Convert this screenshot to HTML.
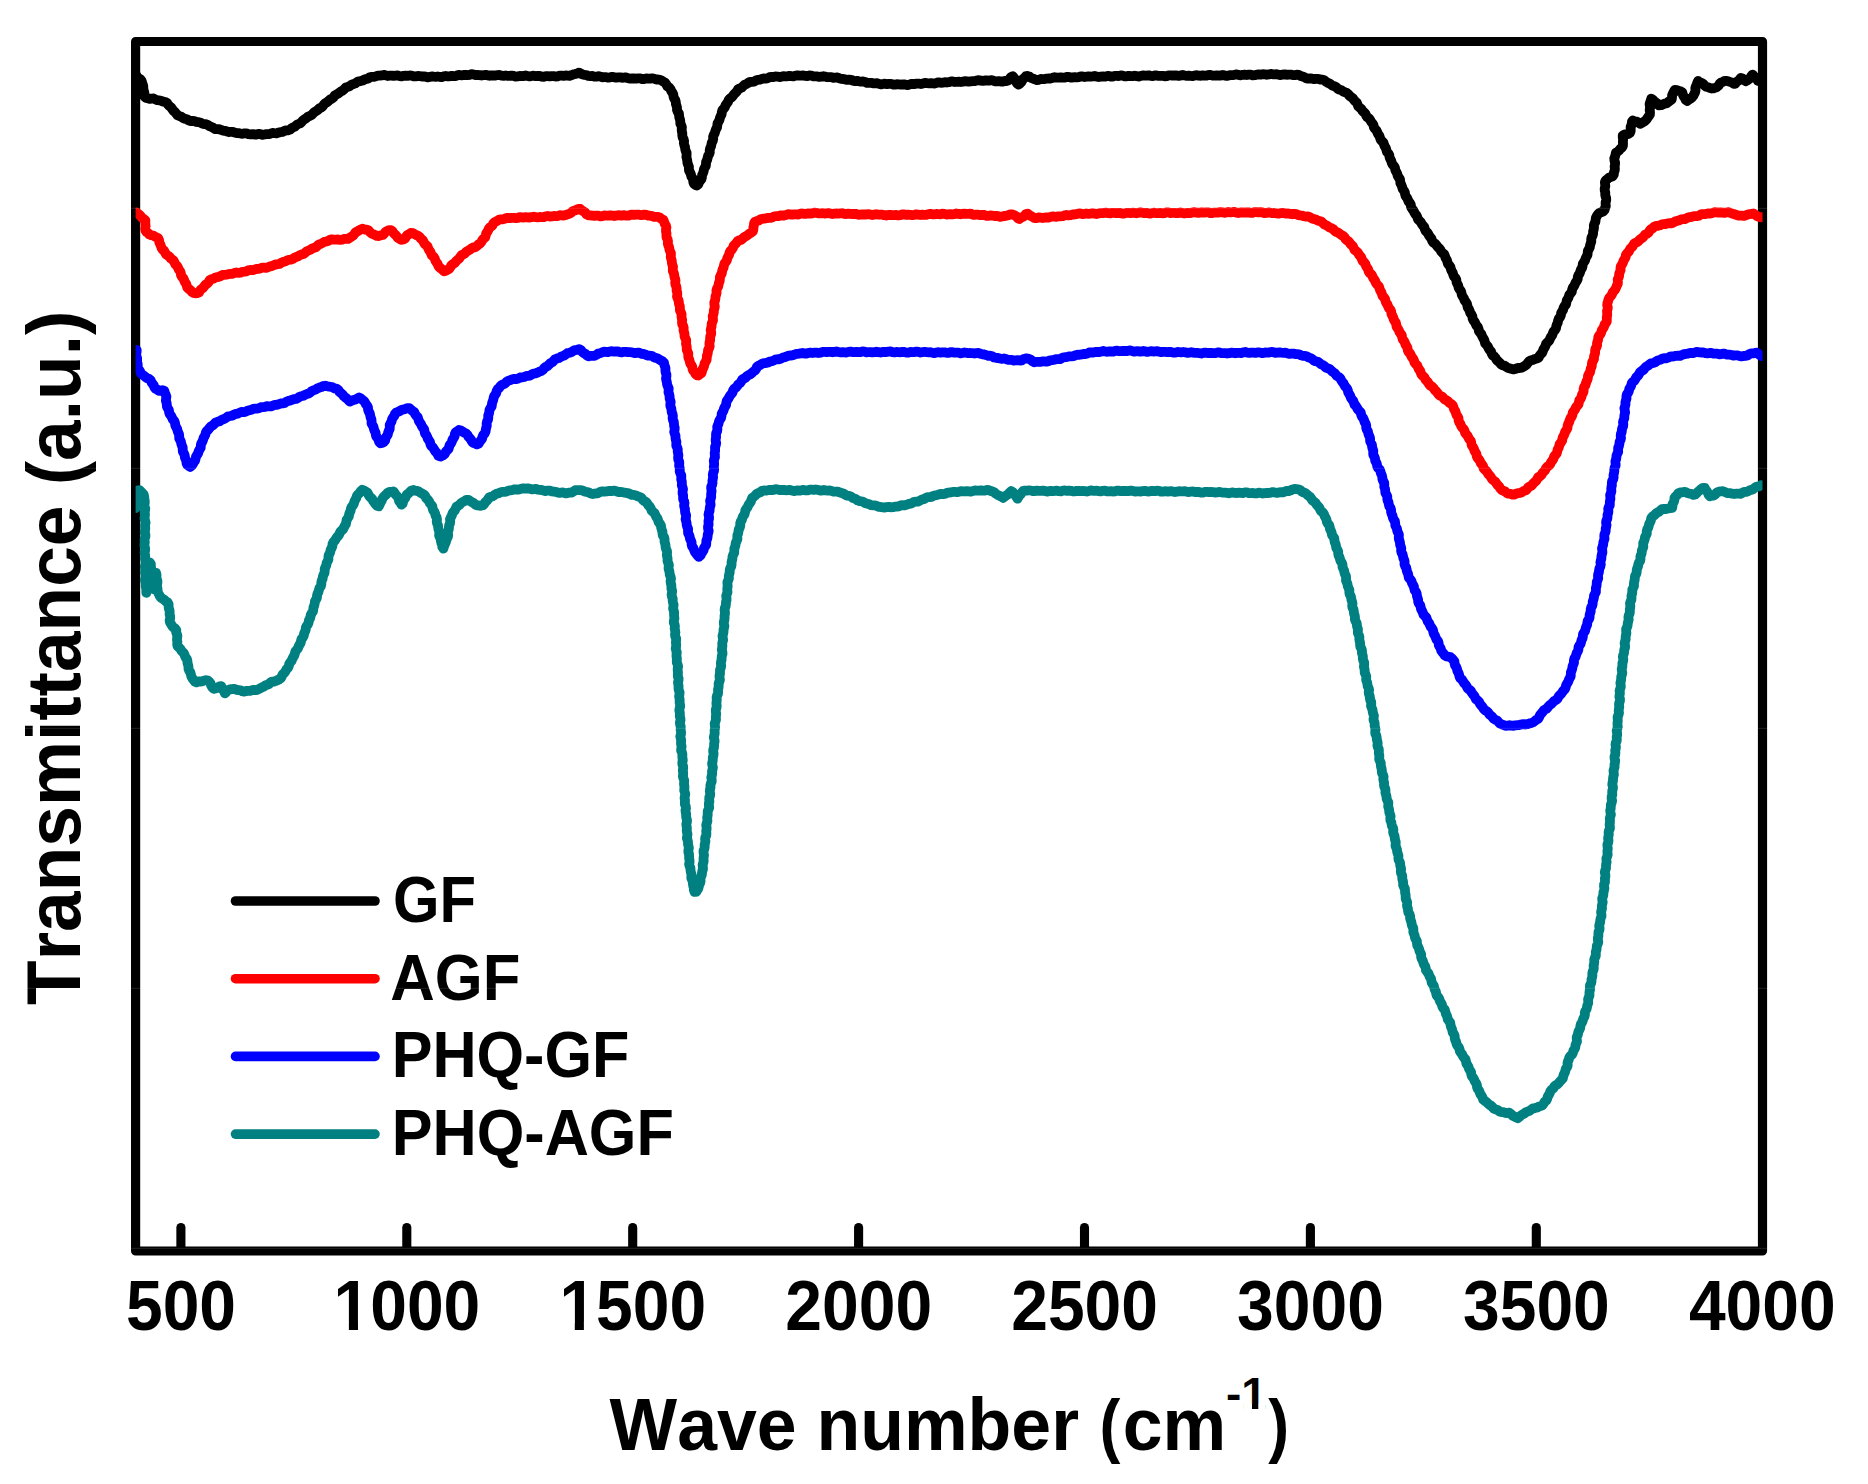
<!DOCTYPE html>
<html lang="en">
<head>
<meta charset="utf-8">
<title>FTIR spectra</title>
<style>
html,body{margin:0;padding:0;background:#fff;}
body{width:1868px;height:1484px;overflow:hidden;}
svg{display:block;}
</style>
</head>
<body>
<svg width="1868" height="1484" viewBox="0 0 1868 1484">
<rect x="0" y="0" width="1868" height="1484" fill="#fff"/>
<defs><clipPath id="plot"><rect x="135.6" y="41.5" width="1626.9" height="1209.5"/></clipPath></defs>
<g stroke="#000" stroke-width="9.1" stroke-linecap="round">
<line x1="180.9" y1="1248" x2="180.9" y2="1227.5"/>
<line x1="406.8" y1="1248" x2="406.8" y2="1227.5"/>
<line x1="632.7" y1="1248" x2="632.7" y2="1227.5"/>
<line x1="858.6" y1="1248" x2="858.6" y2="1227.5"/>
<line x1="1084.5" y1="1248" x2="1084.5" y2="1227.5"/>
<line x1="1310.4" y1="1248" x2="1310.4" y2="1227.5"/>
<line x1="1536.3" y1="1248" x2="1536.3" y2="1227.5"/>
</g>
<rect x="135.6" y="41.5" width="1626.9" height="1209.5" fill="none" stroke="#000" stroke-width="9.2" stroke-linejoin="round"/>
<g clip-path="url(#plot)" fill="none" stroke-linejoin="round" stroke-linecap="round" stroke-width="9.8">
<path stroke="#000000" d="M136.0 75.0L137.1 76.7L138.5 78.1L140.3 79.2L141.5 80.8L142.2 82.7L142.8 84.5L143.3 86.5L143.3 88.5L143.7 90.5L144.3 92.4L144.2 94.3L144.3 96.4L145.7 97.7L147.6 98.2L149.6 98.9L151.6 98.6L153.6 98.5L155.5 99.5L157.3 100.2L159.4 100.3L161.3 100.9L163.2 101.6L165.2 102.0L167.0 102.9L168.1 104.7L169.5 106.2L171.1 107.4L172.3 109.1L173.4 110.7L174.9 112.0L176.2 113.6L177.5 115.3L179.4 116.1L181.3 116.7L183.0 117.9L184.8 118.7L186.8 119.2L188.5 120.3L190.3 121.1L192.4 121.0L194.4 121.2L196.3 121.9L198.3 122.2L200.2 122.5L202.1 123.6L203.9 124.1L206.0 124.2L207.8 125.0L209.4 126.2L211.4 126.9L213.2 127.7L214.8 129.0L216.8 129.2L218.9 129.1L220.8 129.8L222.7 130.6L224.7 130.8L226.6 131.3L228.5 132.0L230.6 131.9L232.6 131.8L234.5 132.6L236.5 133.1L238.5 133.1L240.4 133.5L242.4 133.8L244.5 133.4L246.5 133.4L248.4 134.1L250.4 134.3L252.4 134.1L254.4 134.5L256.4 134.5L258.4 133.9L260.4 134.2L262.4 134.8L264.4 134.5L266.4 134.1L268.4 134.2L270.4 133.7L272.3 133.0L274.4 133.2L276.4 133.3L278.3 132.6L280.3 132.2L282.3 131.9L284.1 131.1L285.9 130.4L288.1 130.3L290.0 129.7L291.5 128.3L293.3 127.3L295.1 126.5L296.5 125.0L298.3 124.0L300.2 123.3L301.7 121.9L303.0 120.3L304.7 119.2L306.4 118.1L307.8 116.7L309.7 115.9L311.6 115.1L312.9 113.6L314.3 112.1L316.1 111.2L317.7 110.0L319.2 108.5L321.0 107.6L322.6 106.5L323.7 104.7L325.2 103.2L327.0 102.3L328.5 101.0L330.0 99.6L331.8 98.8L333.4 97.5L334.5 95.7L336.2 94.6L338.0 93.7L339.5 92.4L341.2 91.2L343.0 90.4L344.4 89.0L345.9 87.4L347.8 86.8L349.7 86.1L351.3 84.9L353.2 84.2L355.1 83.5L356.7 82.3L358.5 81.3L360.6 81.1L362.5 80.6L364.3 79.6L366.2 79.1L368.1 78.5L369.8 77.2L371.8 76.8L373.9 76.9L375.8 76.3L377.7 75.7L379.7 75.7L381.7 75.4L383.7 74.9L385.7 75.3L387.7 76.0L389.7 75.7L391.7 75.6L393.7 75.9L395.7 75.7L397.7 75.5L399.7 76.1L401.7 76.4L403.7 75.8L405.7 75.6L407.7 75.8L409.7 75.5L411.7 75.6L413.7 76.3L415.7 76.4L417.7 76.0L419.7 76.2L421.7 76.5L423.7 76.4L425.7 76.7L427.7 77.3L429.7 77.0L431.7 76.4L433.7 76.7L435.7 76.8L437.7 76.5L439.7 76.8L441.7 77.1L443.7 76.4L445.7 76.0L447.7 76.4L449.7 76.3L451.7 75.9L453.7 76.2L455.7 76.1L457.6 75.2L459.6 75.0L461.6 75.3L463.6 75.0L465.6 74.8L467.6 75.1L469.6 74.9L471.6 74.2L473.6 74.5L475.6 75.1L477.6 75.0L479.6 75.1L481.6 75.5L483.6 75.2L485.6 74.8L487.6 75.4L489.6 75.8L491.6 75.4L493.6 75.5L495.6 75.6L497.6 75.1L499.6 75.0L501.6 75.7L503.6 75.8L505.6 75.5L507.6 75.8L509.6 75.9L511.6 75.6L513.6 75.9L515.6 76.6L517.6 76.4L519.6 76.0L521.6 76.2L523.6 76.0L525.6 75.5L527.6 76.0L529.6 76.4L531.6 76.0L533.6 75.7L535.6 76.1L537.6 76.0L539.6 75.9L541.6 76.6L543.6 76.8L545.6 76.2L547.6 76.2L549.6 76.4L551.6 76.1L553.6 76.1L555.6 76.5L557.6 76.3L559.6 75.6L561.6 75.7L563.6 75.9L565.6 75.5L567.6 75.7L569.6 75.9L571.6 75.2L573.4 74.3L575.4 74.0L577.3 73.4L579.1 72.6L580.8 73.5L582.5 74.5L584.6 74.9L586.4 75.1L588.3 75.9L590.3 76.1L592.3 76.0L594.3 76.6L596.3 76.7L598.3 76.2L600.3 76.5L602.2 77.3L604.2 77.2L606.3 77.2L608.2 77.6L610.3 77.3L612.3 76.8L614.3 77.2L616.2 77.7L618.3 77.4L620.3 77.4L622.2 77.8L624.3 77.5L626.3 77.4L628.2 78.2L630.2 78.6L632.2 78.3L634.2 78.5L636.2 78.7L638.2 78.3L640.2 78.4L642.2 79.1L644.2 79.0L646.2 78.5L648.2 78.7L650.2 78.7L652.2 78.3L654.2 78.7L656.2 79.5L658.1 79.5L660.1 79.8L661.9 80.7L663.5 81.8L665.3 82.8L666.4 84.5L667.3 86.3L669.1 87.4L670.4 89.0L671.2 90.9L672.3 92.5L673.3 94.3L673.5 96.4L674.1 98.3L675.3 100.0L675.8 101.9L675.9 104.0L676.6 105.9L677.0 107.8L677.0 109.9L677.8 111.8L678.9 113.5L679.1 115.5L679.3 117.5L680.0 119.4L680.3 121.4L680.3 123.5L681.2 125.3L681.9 127.2L681.7 129.3L681.8 131.3L682.3 133.3L682.3 135.3L682.6 137.3L683.6 139.1L684.1 141.1L683.9 143.1L684.3 145.1L685.0 147.0L685.2 149.0L685.7 151.0L686.6 152.8L686.6 154.8L686.4 156.9L686.9 158.9L687.3 160.8L687.4 162.8L688.1 164.7L688.9 166.6L688.9 168.7L689.1 170.7L690.1 172.5L690.9 174.3L691.3 176.3L692.4 178.0L693.2 179.9L693.3 182.0L694.0 183.9L695.6 185.1L696.7 185.6L698.3 184.4L699.0 182.5L700.0 180.8L701.4 179.2L701.9 177.2L702.1 175.2L702.9 173.3L703.6 171.4L703.9 169.4L704.8 167.6L705.8 165.9L706.0 163.8L706.1 161.8L707.1 160.0L707.6 158.1L708.0 156.1L709.1 154.3L709.8 152.4L709.7 150.3L710.1 148.4L711.0 146.5L711.4 144.6L711.8 142.6L712.8 140.8L713.2 138.9L713.1 136.7L713.8 134.9L714.8 133.1L715.3 131.1L716.0 129.2L717.0 127.5L717.3 125.5L717.5 123.4L718.5 121.7L719.5 119.9L719.9 117.9L720.7 116.1L721.6 114.3L721.8 112.2L722.4 110.2L723.8 108.7L724.9 107.0L725.6 105.1L726.8 103.5L728.0 101.9L728.7 99.9L730.0 98.4L731.8 97.3L733.0 95.8L734.1 94.1L735.6 92.8L737.0 91.2L738.0 89.4L739.8 88.4L741.7 87.6L743.1 86.1L744.6 84.8L746.5 84.0L748.2 82.9L750.0 81.9L752.1 81.8L754.1 81.6L755.8 80.5L757.7 79.9L759.7 79.7L761.6 78.9L763.5 78.4L765.6 78.6L767.6 78.2L769.4 77.2L771.4 77.0L773.5 77.0L775.4 76.5L777.4 76.6L779.5 77.1L781.5 76.7L783.4 76.1L785.4 76.3L787.4 76.3L789.4 75.9L791.4 76.2L793.4 76.4L795.4 75.7L797.4 75.3L799.4 75.6L801.4 75.6L803.4 75.4L805.4 75.9L807.4 76.1L809.4 75.5L811.4 75.6L813.4 76.3L815.4 76.3L817.4 76.4L819.4 76.9L821.4 76.7L823.4 76.2L825.4 76.6L827.4 77.2L829.4 77.1L831.4 77.2L833.3 77.8L835.4 77.6L837.4 77.4L839.3 78.3L841.2 78.9L843.3 79.0L845.2 79.4L847.2 79.9L849.2 79.6L851.2 79.8L853.1 80.7L855.1 81.1L857.1 80.9L859.1 81.3L861.1 81.6L863.1 81.4L865.1 81.9L867.0 82.9L869.0 82.9L871.0 82.8L872.9 83.3L874.9 83.4L877.0 83.2L878.9 83.8L880.9 84.4L882.9 84.0L884.9 83.7L886.9 84.1L888.9 83.9L890.9 83.8L892.9 84.5L894.9 84.7L896.9 84.2L898.9 84.3L900.9 84.6L902.9 84.4L904.9 84.5L906.9 85.0L908.9 84.8L910.9 84.0L912.9 84.0L914.9 84.1L916.9 83.6L918.9 83.7L920.9 84.0L922.9 83.5L924.9 82.9L926.9 83.2L928.9 83.3L930.9 83.1L932.9 83.3L934.9 83.5L936.9 82.7L938.9 82.4L940.9 82.8L942.9 82.6L944.9 82.2L946.9 82.5L948.9 82.2L950.8 81.5L952.8 81.5L954.9 82.0L956.8 81.8L958.8 81.7L960.9 82.0L962.8 81.7L964.8 81.1L966.8 81.4L968.9 81.7L970.8 81.3L972.8 81.1L974.8 81.1L976.8 80.5L978.8 80.1L980.8 80.7L982.8 80.9L984.8 80.4L986.8 80.5L988.8 80.7L990.8 80.2L992.8 80.4L994.8 81.3L996.8 81.4L998.8 81.1L1000.8 81.5L1002.8 81.6L1004.7 81.0L1006.7 81.1L1008.5 80.3L1009.7 78.7L1011.0 77.1L1012.8 76.2L1014.1 77.9L1015.4 79.4L1016.1 81.4L1016.9 83.3L1018.6 84.6L1019.7 83.8L1021.1 82.4L1022.1 80.7L1023.2 78.9L1024.8 77.6L1025.8 76.1L1027.7 76.0L1029.6 76.7L1031.2 78.0L1033.1 78.7L1034.9 79.4L1036.8 80.0L1038.9 79.8L1040.8 79.0L1042.8 79.1L1044.8 79.1L1046.8 78.6L1048.8 78.5L1050.8 78.5L1052.7 77.8L1054.7 77.2L1056.7 77.6L1058.7 77.6L1060.7 77.3L1062.7 77.6L1064.7 77.6L1066.7 77.0L1068.7 76.9L1070.7 77.5L1072.7 77.5L1074.7 77.2L1076.7 77.4L1078.7 77.1L1080.7 76.4L1082.7 76.5L1084.7 77.0L1086.7 76.7L1088.7 76.4L1090.7 76.7L1092.7 76.4L1094.7 76.0L1096.7 76.6L1098.7 77.0L1100.7 76.6L1102.7 76.5L1104.7 76.7L1106.7 76.2L1108.7 75.9L1110.7 76.5L1112.7 76.5L1114.7 75.9L1116.7 75.9L1118.7 76.0L1120.7 75.5L1122.7 75.7L1124.7 76.4L1126.7 76.3L1128.7 75.8L1130.7 76.1L1132.7 76.1L1134.7 75.7L1136.7 76.1L1138.7 76.5L1140.7 75.9L1142.7 75.4L1144.7 75.7L1146.7 75.6L1148.7 75.3L1150.7 75.9L1152.7 76.1L1154.7 75.5L1156.7 75.4L1158.7 75.9L1160.7 75.8L1162.7 75.8L1164.7 76.3L1166.7 76.1L1168.7 75.3L1170.7 75.4L1172.7 75.7L1174.7 75.4L1176.7 75.5L1178.7 75.9L1180.7 75.4L1182.7 75.0L1184.7 75.5L1186.7 75.8L1188.7 75.6L1190.7 75.9L1192.7 76.1L1194.7 75.5L1196.7 75.2L1198.7 75.7L1200.7 75.8L1202.7 75.4L1204.7 75.6L1206.7 75.5L1208.7 74.9L1210.7 75.0L1212.7 75.7L1214.7 75.6L1216.7 75.4L1218.7 75.7L1220.7 75.5L1222.7 75.0L1224.7 75.4L1226.7 75.9L1228.7 75.4L1230.7 75.1L1232.7 75.2L1234.7 74.8L1236.7 74.4L1238.7 75.0L1240.7 75.3L1242.7 74.8L1244.7 74.7L1246.7 75.0L1248.7 74.6L1250.7 74.6L1252.7 75.3L1254.7 75.2L1256.7 74.6L1258.7 74.5L1260.7 74.6L1262.7 74.2L1264.7 74.3L1266.7 74.8L1268.7 74.4L1270.7 73.9L1272.7 74.3L1274.7 74.4L1276.7 74.2L1278.7 74.7L1280.7 75.1L1282.7 74.6L1284.7 74.3L1286.7 74.8L1288.7 74.7L1290.7 74.6L1292.7 75.1L1294.7 75.2L1296.7 74.7L1298.8 74.9L1300.6 76.0L1302.5 76.5L1304.4 77.1L1306.2 78.2L1308.1 78.7L1310.2 78.4L1312.1 78.7L1314.1 79.1L1316.1 78.8L1318.1 78.8L1320.0 79.5L1322.0 79.7L1324.1 80.0L1325.6 81.4L1327.3 82.6L1329.2 83.3L1330.8 84.4L1332.4 85.6L1334.4 86.2L1336.2 87.1L1337.6 88.6L1339.4 89.6L1341.3 90.2L1343.0 91.3L1344.7 92.2L1346.7 92.9L1348.3 94.1L1349.5 95.8L1351.1 97.0L1352.8 98.2L1353.9 99.9L1355.3 101.4L1356.8 102.7L1357.6 104.6L1358.4 106.5L1360.0 107.8L1361.5 109.2L1362.5 110.9L1364.0 112.3L1365.4 113.7L1366.2 115.6L1367.4 117.3L1369.1 118.5L1370.3 120.1L1371.2 121.9L1372.5 123.4L1373.5 125.2L1373.9 127.3L1375.0 128.9L1376.5 130.4L1377.3 132.2L1378.1 134.1L1379.3 135.7L1380.0 137.6L1380.6 139.6L1382.0 141.1L1383.4 142.6L1384.0 144.5L1384.8 146.4L1385.9 148.1L1386.4 150.1L1387.0 152.0L1388.4 153.5L1389.3 155.3L1389.6 157.4L1390.4 159.2L1391.3 161.0L1391.8 163.0L1392.7 164.7L1394.2 166.3L1395.0 168.1L1395.3 170.1L1396.3 171.9L1397.2 173.7L1397.7 175.7L1398.7 177.4L1399.9 179.1L1400.2 181.1L1400.4 183.2L1401.4 185.0L1402.1 186.8L1402.6 188.8L1403.8 190.5L1404.8 192.2L1405.1 194.3L1405.7 196.2L1407.0 197.8L1407.8 199.6L1408.6 201.5L1409.9 203.0L1410.8 204.8L1411.0 206.9L1412.0 208.7L1413.3 210.3L1414.1 212.1L1415.1 213.8L1416.5 215.3L1417.3 217.2L1417.9 219.2L1419.3 220.6L1420.8 222.1L1421.7 223.9L1422.9 225.5L1424.2 227.0L1424.8 229.0L1425.6 230.9L1427.1 232.3L1428.3 233.9L1429.1 235.7L1430.4 237.3L1431.5 238.9L1432.2 240.9L1433.4 242.6L1435.2 243.7L1436.5 245.2L1437.6 246.9L1439.1 248.2L1440.4 249.8L1441.2 251.6L1442.7 253.1L1444.3 254.4L1445.0 256.3L1445.7 258.2L1446.8 259.9L1447.4 261.9L1447.9 263.8L1449.3 265.4L1450.4 267.0L1450.9 269.1L1451.6 270.9L1452.7 272.6L1453.2 274.6L1454.0 276.4L1455.4 278.0L1456.3 279.8L1456.5 281.9L1457.2 283.7L1458.2 285.5L1458.6 287.5L1459.5 289.3L1460.9 290.9L1461.4 292.8L1461.8 294.8L1462.8 296.6L1463.9 298.3L1464.5 300.2L1465.7 301.8L1466.9 303.5L1467.3 305.5L1467.8 307.5L1468.9 309.2L1469.7 311.0L1470.3 312.9L1471.5 314.6L1472.4 316.4L1472.6 318.5L1473.4 320.3L1474.7 321.9L1475.6 323.7L1476.4 325.5L1477.8 327.1L1478.6 328.9L1478.9 331.0L1480.0 332.7L1481.4 334.2L1482.1 336.1L1483.0 337.9L1484.1 339.5L1484.7 341.5L1485.2 343.5L1486.6 345.0L1487.9 346.6L1488.7 348.5L1489.8 350.1L1491.1 351.7L1491.7 353.6L1492.7 355.4L1494.4 356.6L1495.7 358.1L1496.6 360.0L1498.1 361.3L1499.6 362.6L1500.9 364.2L1502.6 365.2L1504.7 365.8L1506.3 366.9L1508.0 368.0L1510.0 368.4L1511.9 368.9L1513.9 369.4L1515.9 368.8L1517.8 367.9L1519.8 368.0L1521.8 367.6L1523.5 366.7L1525.1 365.6L1526.8 364.4L1527.9 362.7L1529.2 361.2L1531.1 360.3L1533.0 359.9L1534.8 359.0L1536.8 358.5L1538.7 357.7L1539.5 355.7L1540.7 354.2L1542.2 352.7L1542.9 350.9L1543.6 349.0L1544.8 347.3L1545.6 345.5L1546.2 343.5L1547.7 342.1L1549.2 340.7L1550.0 338.8L1550.9 337.0L1552.1 335.4L1552.8 333.5L1553.5 331.6L1554.9 330.1L1556.0 328.4L1556.3 326.3L1556.9 324.4L1557.8 322.6L1558.1 320.6L1558.8 318.7L1560.1 317.1L1560.9 315.2L1561.1 313.2L1562.1 311.4L1563.1 309.7L1563.6 307.7L1564.6 306.0L1566.0 304.4L1566.4 302.4L1566.8 300.4L1567.9 298.7L1568.7 296.9L1569.3 294.9L1570.6 293.3L1571.8 291.7L1572.1 289.6L1572.8 287.7L1574.1 286.1L1574.9 284.3L1575.7 282.4L1576.9 280.8L1577.7 279.0L1577.8 276.9L1578.6 275.0L1579.7 273.3L1580.3 271.4L1581.0 269.5L1582.1 267.8L1582.6 265.8L1582.8 263.8L1583.9 262.1L1585.1 260.4L1585.6 258.4L1586.5 256.6L1587.5 254.9L1587.7 252.8L1587.9 250.8L1589.0 249.0L1589.8 247.2L1590.1 245.2L1590.7 243.3L1591.3 241.4L1591.2 239.3L1591.6 237.3L1592.6 235.5L1593.1 233.5L1593.1 231.5L1593.7 229.6L1594.0 227.6L1593.8 225.6L1594.4 223.6L1595.4 221.8L1595.6 219.8L1595.9 217.8L1596.8 216.1L1597.8 214.4L1599.3 212.9L1601.3 212.3L1603.2 211.5L1604.6 210.0L1605.0 208.1L1605.8 206.3L1605.6 204.3L1605.6 202.3L1606.2 200.2L1606.2 198.2L1605.5 196.3L1605.2 194.3L1605.3 192.3L1604.7 190.3L1604.7 188.3L1605.3 186.3L1605.1 184.3L1604.9 182.2L1605.7 180.3L1607.3 179.1L1608.9 177.8L1610.7 177.0L1612.7 176.3L1613.8 174.5L1613.9 172.4L1614.7 170.6L1614.9 168.6L1614.6 166.6L1615.0 164.6L1615.1 162.6L1614.5 160.6L1614.3 158.5L1615.0 156.6L1615.5 154.6L1615.9 152.6L1617.6 151.6L1619.2 150.4L1620.4 148.6L1622.0 147.6L1622.9 145.8L1623.0 143.8L1622.9 141.7L1623.1 139.7L1622.8 137.8L1622.7 135.5L1624.5 134.5L1626.6 134.5L1628.5 133.8L1629.9 132.9L1630.7 131.1L1630.7 129.1L1630.6 127.1L1631.4 125.1L1631.8 123.2L1632.0 121.3L1632.9 120.5L1634.6 121.4L1636.7 121.7L1638.4 122.6L1640.1 123.8L1641.9 122.9L1643.6 121.8L1645.2 120.8L1646.6 119.4L1647.7 117.7L1648.8 116.2L1649.9 114.4L1650.0 112.3L1649.7 110.3L1650.0 108.3L1649.9 106.3L1649.6 104.3L1650.1 102.3L1650.8 100.5L1651.2 98.7L1653.0 99.9L1654.4 101.4L1656.0 102.5L1657.5 103.8L1658.9 105.3L1661.0 105.2L1662.9 104.3L1664.8 103.6L1666.8 103.2L1668.4 101.9L1670.0 100.8L1671.7 99.6L1672.0 97.5L1672.1 95.3L1672.9 93.5L1673.8 91.7L1674.7 89.9L1676.8 90.1L1678.6 90.9L1680.6 91.3L1682.3 92.4L1682.8 94.5L1683.6 96.3L1684.8 97.9L1685.7 99.8L1687.2 101.0L1689.0 99.5L1690.6 98.5L1692.2 97.3L1693.4 95.8L1694.2 94.0L1695.1 92.2L1695.5 90.2L1695.3 88.2L1695.9 86.3L1696.8 84.4L1697.3 82.6L1698.1 81.0L1699.6 82.2L1701.5 82.9L1703.3 83.8L1704.5 85.5L1706.1 86.8L1708.1 87.2L1710.0 88.0L1711.9 88.5L1713.8 88.3L1715.3 87.7L1717.1 86.9L1718.6 85.6L1719.6 83.8L1721.0 82.4L1722.9 81.9L1724.7 80.8L1726.7 80.8L1728.5 81.4L1730.2 82.0L1732.2 82.7L1733.8 83.8L1735.3 83.8L1736.3 82.1L1738.0 80.9L1739.7 79.8L1740.7 78.0L1742.5 78.5L1743.9 80.0L1745.5 81.2L1747.0 80.5L1748.8 79.4L1750.3 78.1L1751.2 76.2L1752.6 74.6L1754.0 76.2L1755.6 77.5L1756.9 79.0L1757.9 80.9L1759.6 81.4L1761.3 80.3L1762.8 79.7"/>
<path stroke="#ff0000" d="M136.4 212.3L137.8 213.8L139.5 214.8L140.9 216.3L142.0 217.9L143.8 219.0L145.4 220.3L145.3 222.4L145.4 224.4L145.6 226.4L145.2 228.4L145.4 230.4L146.4 232.0L147.9 232.9L149.2 234.5L151.1 235.2L153.1 235.5L154.8 236.5L156.5 237.4L158.3 238.4L159.1 240.2L159.3 242.3L160.1 244.1L160.9 245.9L161.5 247.8L162.6 249.5L164.1 250.8L165.1 252.6L166.1 254.4L167.8 255.5L169.4 256.7L170.7 258.3L172.2 259.5L173.7 260.8L174.6 262.7L175.5 264.5L177.0 265.9L178.0 267.6L178.8 269.5L180.0 271.1L180.8 272.9L181.0 275.0L182.0 276.8L183.4 278.3L184.1 280.2L184.9 282.1L186.1 283.7L186.7 285.6L187.3 287.6L188.9 289.0L190.5 290.2L191.8 291.8L193.5 292.9L195.3 293.3L197.2 293.1L199.1 292.4L200.1 290.5L201.4 289.0L203.1 287.9L204.3 286.3L205.5 284.7L207.3 283.6L208.6 282.1L209.6 280.2L211.3 279.2L213.3 278.7L215.0 277.7L216.9 277.1L218.9 276.9L220.7 276.0L222.5 274.9L224.6 274.8L226.6 274.7L228.5 274.1L230.5 273.9L232.6 273.8L234.4 273.0L236.4 272.5L238.5 272.8L240.5 272.6L242.4 271.9L244.4 271.7L246.3 271.4L248.2 270.4L250.1 270.0L252.2 270.2L254.2 269.7L256.1 269.0L258.1 268.9L260.0 268.5L261.9 267.7L264.0 267.7L266.1 267.9L267.9 267.2L269.8 266.4L271.8 266.1L273.7 265.3L275.5 264.4L277.5 264.3L279.5 263.9L281.2 262.7L283.1 261.9L285.0 261.5L286.8 260.5L288.7 259.8L290.8 259.7L292.7 259.0L294.3 257.8L296.2 257.0L298.1 256.4L299.7 255.2L301.6 254.4L303.6 254.0L305.2 252.7L306.7 251.2L308.5 250.5L310.4 249.7L312.0 248.6L313.9 247.9L315.9 247.3L317.4 245.8L318.9 244.5L320.9 243.9L322.6 242.9L324.3 241.9L326.3 241.5L328.1 240.9L330.0 239.8L331.9 239.3L334.0 239.7L336.0 239.6L338.0 239.5L340.0 239.9L342.0 239.7L343.9 238.9L345.9 238.9L348.0 238.9L349.7 237.7L351.4 236.7L353.1 235.6L354.4 234.0L355.5 232.3L357.4 231.3L359.1 230.4L360.8 229.3L362.7 228.7L364.6 229.5L366.6 229.6L368.6 230.3L369.9 232.1L371.4 233.4L373.3 234.2L375.1 235.1L376.9 235.9L378.9 236.0L380.7 235.3L382.8 235.0L384.3 233.5L385.5 231.8L387.3 230.9L389.2 230.1L391.2 230.1L392.7 231.7L393.8 233.4L395.3 234.7L396.7 236.1L397.8 237.8L399.6 238.9L401.2 239.8L403.2 239.5L405.1 238.6L406.1 236.6L407.3 235.1L409.2 234.1L410.8 232.9L412.9 233.1L414.6 234.2L416.4 235.1L418.3 235.8L419.8 237.2L421.0 238.8L422.6 240.1L423.6 241.8L424.5 243.7L426.0 245.0L427.5 246.4L428.2 248.3L429.1 250.1L430.3 251.7L431.1 253.6L431.9 255.4L433.5 256.8L434.7 258.4L435.3 260.4L436.3 262.1L437.5 263.7L438.2 265.6L439.4 267.3L441.0 268.5L442.5 269.8L444.0 271.3L445.9 270.8L447.7 269.8L449.3 268.7L450.5 267.0L451.5 265.2L453.1 264.0L454.9 262.9L456.1 261.3L457.5 259.9L459.1 258.7L460.2 257.0L461.4 255.3L463.3 254.4L465.0 253.3L466.3 251.8L468.0 250.8L469.8 249.8L471.3 248.5L473.1 247.5L475.2 247.3L476.9 246.1L478.2 244.6L480.0 243.6L481.3 242.1L482.2 240.3L483.5 238.8L485.1 237.4L485.7 235.5L486.2 233.5L487.3 231.8L488.3 230.0L489.1 228.2L490.7 226.8L492.3 225.6L493.2 223.7L494.6 222.2L496.4 221.3L498.2 220.3L499.9 219.3L502.0 219.4L504.0 219.0L505.9 218.2L507.8 217.9L509.9 218.2L511.8 217.9L513.8 217.8L515.8 218.2L517.8 217.9L519.8 217.1L521.8 217.3L523.8 217.5L525.8 217.2L527.8 217.3L529.8 217.6L531.8 217.1L533.8 216.7L535.8 217.1L537.8 217.3L539.8 217.0L541.8 217.1L543.8 217.1L545.8 216.3L547.8 216.0L549.8 216.5L551.8 216.4L553.8 216.0L555.8 216.1L557.8 216.0L559.7 215.2L561.7 215.3L563.8 215.6L565.8 215.1L567.7 214.3L569.6 213.7L571.3 212.6L572.8 211.2L574.7 210.5L576.6 209.9L578.4 208.9L580.3 209.0L581.8 210.4L583.6 211.3L585.2 212.5L586.4 214.3L588.2 215.3L590.3 215.3L592.3 215.6L594.3 215.9L596.3 215.6L598.3 215.7L600.3 216.4L602.3 216.1L604.3 215.5L606.3 215.6L608.3 215.6L610.3 215.3L612.3 215.6L614.3 216.1L616.3 215.6L618.3 215.2L620.3 215.5L622.3 215.5L624.3 215.2L626.3 215.6L628.3 215.7L630.2 214.9L632.2 214.6L634.3 214.9L636.3 214.7L638.2 214.6L640.2 215.1L642.2 215.1L644.3 214.6L646.3 214.9L648.2 215.6L650.2 215.7L652.2 216.1L654.1 216.8L656.1 216.9L658.2 216.8L660.0 217.7L661.5 219.0L663.4 219.9L664.1 221.8L664.7 223.7L665.9 225.5L666.4 227.4L666.0 229.5L666.0 231.5L666.5 233.5L666.4 235.5L666.6 237.5L667.6 239.4L668.0 241.3L667.8 243.4L668.3 245.3L669.1 247.2L669.4 249.2L670.0 251.1L670.9 253.0L670.9 255.0L670.7 257.1L671.3 259.0L671.8 261.0L671.9 263.0L672.4 264.9L673.0 266.8L672.8 268.9L672.8 270.9L673.7 272.8L674.2 274.8L674.4 276.8L675.1 278.7L675.5 280.6L675.2 282.7L675.5 284.7L676.3 286.6L676.6 288.6L676.6 290.6L677.2 292.5L677.3 294.5L677.0 296.6L677.7 298.5L678.6 300.4L678.8 302.4L679.1 304.4L679.8 306.3L679.9 308.3L679.9 310.3L680.8 312.2L681.6 314.1L681.5 316.1L681.7 318.1L682.2 320.1L682.0 322.1L682.2 324.1L683.2 326.0L683.7 327.9L683.5 330.0L684.0 331.9L684.5 333.9L684.5 335.9L685.1 337.8L686.1 339.7L686.2 341.7L686.0 343.7L686.5 345.7L686.8 347.7L686.7 349.7L687.5 351.6L688.3 353.5L688.2 355.6L688.4 357.6L689.2 359.4L689.7 361.4L690.2 363.3L691.3 365.0L692.3 366.8L692.5 368.9L693.3 370.7L694.7 372.2L695.5 374.0L697.0 375.3L698.4 375.5L699.7 374.3L701.5 373.0L702.1 371.1L702.6 369.1L703.6 367.3L704.2 365.4L704.6 363.4L705.6 361.7L706.6 359.9L706.8 357.8L706.9 355.8L707.6 354.0L707.9 352.0L708.1 350.0L709.1 348.1L709.7 346.2L709.4 344.1L709.6 342.1L710.1 340.2L710.1 338.2L710.3 336.2L711.1 334.3L711.2 332.2L710.7 330.2L711.1 328.2L711.6 326.3L711.6 324.2L712.2 322.3L713.0 320.4L712.9 318.3L712.7 316.3L713.4 314.4L713.8 312.4L713.8 310.4L714.4 308.5L714.8 306.5L714.4 304.4L714.3 302.4L715.0 300.5L715.4 298.5L715.5 296.5L716.2 294.6L716.6 292.6L716.4 290.6L717.0 288.6L718.1 286.8L718.5 284.9L718.9 282.9L719.7 281.1L719.9 279.1L719.9 277.0L720.8 275.1L721.8 273.4L722.1 271.3L722.6 269.4L723.6 267.6L723.9 265.6L724.4 263.6L725.7 262.0L726.8 260.3L727.3 258.3L728.1 256.5L729.1 254.8L729.5 252.8L730.4 251.0L731.9 249.5L732.9 247.9L733.6 245.9L735.0 244.4L736.4 243.0L737.5 241.2L739.4 240.3L741.4 239.7L742.9 238.3L744.4 236.9L746.2 236.1L747.9 235.0L749.3 233.6L751.2 232.7L752.9 231.4L753.4 229.4L753.4 227.3L753.9 225.4L754.1 223.3L755.1 221.6L757.1 221.0L759.0 220.3L760.7 219.2L762.7 218.7L764.7 218.7L766.6 218.1L768.6 217.8L770.7 217.9L772.6 217.3L774.4 216.3L776.4 216.2L778.5 216.1L780.4 215.5L782.4 215.4L784.4 215.5L786.4 214.8L788.3 214.2L790.4 214.5L792.4 214.6L794.3 214.3L796.4 214.4L798.4 214.5L800.3 213.7L802.3 213.5L804.3 213.9L806.3 213.8L808.3 213.4L810.3 213.5L812.3 213.3L814.3 212.6L816.3 212.8L818.3 213.4L820.3 213.3L822.3 213.2L824.3 213.5L826.3 213.3L828.3 213.0L830.3 213.5L832.3 214.0L834.3 213.6L836.3 213.5L838.3 213.7L840.3 213.3L842.3 213.1L844.3 213.8L846.3 214.0L848.3 213.6L850.3 213.8L852.3 214.0L854.3 213.8L856.3 214.0L858.3 214.8L860.3 214.7L862.3 214.3L864.3 214.5L866.3 214.5L868.3 214.2L870.3 214.5L872.3 215.0L874.3 214.6L876.3 214.2L878.3 214.6L880.3 214.7L882.3 214.6L884.3 215.2L886.3 215.5L888.3 215.0L890.3 214.8L892.3 215.2L894.3 215.1L896.3 214.9L898.3 215.4L900.3 215.2L902.3 214.4L904.3 214.5L906.3 214.9L908.3 214.7L910.3 214.8L912.3 215.2L914.3 214.9L916.3 214.3L918.3 214.7L920.3 215.0L922.3 214.7L924.3 214.8L926.3 214.9L928.3 214.2L930.3 213.8L932.3 214.3L934.3 214.3L936.3 214.0L938.3 214.2L940.3 214.3L942.3 213.7L944.3 213.8L946.3 214.5L948.3 214.4L950.3 214.1L952.3 214.3L954.3 214.1L956.3 213.5L958.3 213.8L960.3 214.3L962.3 213.9L964.3 213.7L966.3 213.9L968.3 213.8L970.3 213.6L972.3 214.4L974.2 214.9L976.3 214.6L978.3 214.7L980.2 215.1L982.3 214.9L984.3 215.0L986.2 215.8L988.2 215.9L990.2 215.5L992.2 215.7L994.2 216.0L996.2 215.8L998.2 216.1L1000.2 216.8L1002.2 216.5L1004.1 216.0L1006.1 215.8L1008.1 215.3L1009.9 214.4L1011.9 214.4L1013.4 214.7L1015.0 215.6L1016.7 216.7L1017.9 218.3L1019.3 219.1L1020.8 217.8L1022.7 217.0L1024.4 216.0L1025.7 214.2L1027.6 213.6L1029.2 215.1L1031.0 216.0L1032.8 217.0L1034.5 218.1L1036.6 218.1L1038.6 217.5L1040.6 217.7L1042.6 218.0L1044.6 217.6L1046.6 217.4L1048.6 217.5L1050.6 216.9L1052.5 216.3L1054.6 216.6L1056.6 216.8L1058.5 216.3L1060.5 216.3L1062.6 216.2L1064.5 215.4L1066.4 215.0L1068.5 215.4L1070.5 215.2L1072.4 214.5L1074.4 214.5L1076.4 214.2L1078.4 213.5L1080.4 213.5L1082.4 214.1L1084.4 213.9L1086.4 213.5L1088.4 213.8L1090.4 213.6L1092.4 213.2L1094.4 213.6L1096.4 214.0L1098.4 213.5L1100.4 213.1L1102.4 213.2L1104.4 212.9L1106.4 212.6L1108.4 213.2L1110.4 213.4L1112.4 212.8L1114.4 212.8L1116.4 213.1L1118.4 212.9L1120.4 213.0L1122.4 213.6L1124.4 213.5L1126.4 212.8L1128.4 212.9L1130.4 213.1L1132.4 212.7L1134.4 212.9L1136.4 213.3L1138.4 212.8L1140.4 212.4L1142.4 212.8L1144.4 213.0L1146.4 212.8L1148.4 213.3L1150.4 213.6L1152.4 213.0L1154.4 212.7L1156.4 213.2L1158.4 213.2L1160.4 212.9L1162.4 213.3L1164.4 213.1L1166.4 212.4L1168.4 212.4L1170.4 213.0L1172.4 212.9L1174.4 212.8L1176.4 213.2L1178.4 213.0L1180.4 212.5L1182.4 212.9L1184.4 213.4L1186.4 213.0L1188.4 212.9L1190.4 213.1L1192.4 212.5L1194.4 212.1L1196.4 212.7L1198.4 212.9L1200.4 212.5L1202.4 212.5L1204.4 212.7L1206.4 212.3L1208.4 212.3L1210.4 213.1L1212.4 213.1L1214.4 212.6L1216.4 212.7L1218.4 212.6L1220.4 212.1L1222.4 212.3L1224.4 212.8L1226.4 212.5L1228.4 212.0L1230.4 212.3L1232.4 212.2L1234.4 212.0L1236.4 212.6L1238.4 213.0L1240.4 212.5L1242.4 212.4L1244.4 212.7L1246.4 212.5L1248.4 212.3L1250.4 212.9L1252.4 212.8L1254.4 212.1L1256.4 212.1L1258.4 212.4L1260.4 212.2L1262.4 212.4L1264.4 213.1L1266.4 212.9L1268.4 212.4L1270.4 212.8L1272.4 213.2L1274.4 213.0L1276.4 213.3L1278.4 213.7L1280.4 213.1L1282.4 212.8L1284.4 213.3L1286.4 213.5L1288.4 213.4L1290.4 213.9L1292.3 214.3L1294.4 213.9L1296.4 214.1L1298.3 215.1L1300.2 215.4L1302.2 215.6L1304.1 216.3L1306.1 216.7L1308.2 216.5L1310.0 217.3L1311.8 218.4L1313.7 218.9L1315.7 219.4L1317.4 220.5L1319.3 221.0L1321.3 221.5L1322.8 223.0L1324.3 224.4L1326.2 225.2L1327.9 226.2L1329.5 227.5L1331.4 228.2L1333.2 229.1L1334.5 230.8L1336.1 231.9L1338.1 232.6L1339.7 233.7L1341.3 235.0L1343.1 235.9L1344.6 237.3L1345.6 239.2L1347.1 240.4L1348.8 241.6L1350.0 243.2L1351.2 244.8L1352.8 246.1L1353.7 247.9L1354.5 249.8L1356.2 251.1L1357.7 252.4L1358.7 254.2L1359.9 255.8L1361.2 257.3L1361.9 259.3L1362.7 261.1L1364.3 262.5L1365.4 264.1L1366.1 266.1L1367.2 267.8L1368.2 269.5L1368.7 271.5L1369.8 273.1L1371.5 274.5L1372.4 276.3L1373.2 278.1L1374.4 279.7L1375.4 281.5L1376.1 283.4L1377.4 284.9L1378.9 286.4L1379.5 288.4L1380.1 290.3L1381.2 292.0L1381.9 293.9L1382.5 295.8L1383.9 297.3L1385.1 299.0L1385.5 301.0L1386.2 302.9L1387.4 304.5L1388.1 306.4L1389.0 308.2L1390.4 309.8L1391.2 311.6L1391.4 313.7L1392.2 315.5L1393.2 317.3L1393.7 319.2L1394.6 321.0L1395.8 322.7L1396.3 324.7L1396.6 326.7L1397.7 328.4L1398.8 330.1L1399.5 332.0L1400.6 333.7L1401.8 335.3L1402.2 337.4L1402.7 339.3L1404.0 340.9L1404.9 342.7L1405.5 344.6L1406.7 346.3L1407.5 348.1L1407.8 350.2L1408.6 352.0L1410.1 353.5L1410.9 355.3L1411.8 357.1L1413.1 358.7L1414.0 360.5L1414.5 362.5L1415.8 364.1L1417.3 365.5L1418.0 367.4L1418.9 369.2L1420.1 370.8L1420.8 372.7L1421.5 374.7L1423.0 376.1L1424.5 377.5L1425.3 379.4L1426.6 380.9L1428.0 382.3L1429.0 384.1L1430.3 385.7L1432.2 386.7L1433.6 388.1L1434.6 389.8L1436.1 391.2L1437.4 392.7L1438.5 394.4L1440.1 395.7L1442.0 396.5L1443.4 397.9L1444.8 399.5L1446.6 400.3L1448.2 401.5L1449.5 403.0L1451.3 404.0L1452.8 405.5L1453.5 407.4L1454.1 409.3L1455.2 411.0L1455.9 412.9L1456.5 414.8L1457.7 416.5L1458.5 418.3L1458.6 420.5L1459.3 422.3L1460.4 424.0L1461.1 425.9L1462.2 427.6L1463.7 429.1L1464.6 430.9L1465.1 432.9L1466.4 434.5L1467.7 436.0L1468.5 437.8L1469.6 439.5L1470.9 441.1L1471.3 443.1L1471.7 445.2L1472.8 446.8L1473.8 448.6L1474.4 450.5L1475.4 452.3L1476.4 454.0L1476.7 456.0L1477.5 457.9L1478.9 459.4L1480.0 461.1L1480.7 463.0L1482.0 464.5L1483.1 466.2L1483.6 468.3L1484.9 469.8L1486.5 471.1L1487.6 472.8L1488.7 474.5L1490.1 475.9L1491.2 477.6L1492.2 479.4L1493.8 480.6L1495.5 481.9L1496.5 483.6L1497.7 485.2L1499.2 486.6L1500.2 488.4L1501.5 489.9L1503.4 490.7L1505.1 491.5L1506.7 492.9L1508.5 493.7L1510.5 493.9L1512.5 494.6L1514.6 494.6L1516.4 493.5L1518.4 493.1L1520.4 492.9L1522.2 492.0L1523.9 490.9L1525.8 490.3L1527.2 488.8L1528.4 487.1L1530.3 486.2L1532.0 485.2L1533.2 483.5L1534.6 482.1L1536.2 480.8L1537.2 479.0L1538.2 477.3L1540.0 476.2L1541.5 474.9L1542.5 473.0L1543.8 471.6L1545.2 470.1L1546.0 468.2L1547.3 466.7L1549.1 465.5L1550.3 463.9L1551.1 462.1L1552.3 460.5L1553.4 458.8L1554.0 456.8L1555.2 455.2L1556.6 453.7L1557.2 451.7L1557.6 449.7L1558.6 447.9L1559.2 446.0L1559.7 444.1L1561.0 442.4L1562.1 440.7L1562.4 438.7L1563.0 436.8L1564.1 435.1L1564.7 433.2L1565.4 431.3L1566.7 429.7L1567.5 427.8L1567.6 425.7L1568.3 423.8L1569.2 422.0L1569.7 420.1L1570.5 418.2L1571.8 416.6L1572.4 414.7L1572.7 412.6L1573.9 411.0L1575.1 409.4L1575.9 407.5L1577.1 405.9L1578.5 404.3L1578.9 402.3L1579.4 400.3L1580.6 398.7L1581.5 396.9L1581.9 394.9L1582.9 393.1L1583.6 391.3L1583.6 389.1L1584.1 387.2L1585.3 385.5L1585.9 383.6L1586.4 381.7L1587.4 379.9L1587.9 377.9L1588.0 375.9L1588.9 374.0L1590.0 372.3L1590.4 370.3L1590.8 368.4L1591.7 366.5L1591.9 364.5L1592.1 362.5L1593.1 360.7L1594.0 358.9L1594.0 356.8L1594.5 354.9L1595.1 353.0L1595.1 350.9L1595.4 348.9L1596.5 347.1L1597.1 345.2L1597.0 343.2L1597.6 341.3L1598.2 339.3L1598.3 337.3L1599.2 335.5L1600.6 333.9L1601.3 332.0L1601.9 330.0L1603.1 328.4L1604.0 326.7L1604.5 324.7L1605.8 323.1L1606.8 321.3L1606.8 319.2L1606.8 317.2L1607.2 315.2L1607.2 313.2L1607.0 311.2L1607.6 309.2L1607.8 307.3L1607.2 305.2L1607.4 303.2L1608.1 301.3L1608.5 299.3L1609.5 297.5L1610.9 296.0L1612.0 294.4L1612.7 292.4L1614.0 290.9L1615.3 289.3L1616.1 287.5L1616.8 285.6L1617.8 283.8L1617.9 281.7L1617.7 279.6L1618.5 277.8L1619.1 275.9L1619.2 273.8L1619.9 271.9L1620.6 270.0L1620.5 268.0L1620.9 266.0L1622.1 264.3L1623.0 262.5L1623.6 260.6L1624.7 258.9L1625.6 257.1L1625.9 255.0L1627.0 253.3L1628.5 251.9L1629.5 250.2L1630.5 248.4L1632.0 247.1L1633.2 245.4L1634.2 243.6L1636.0 242.6L1637.9 241.7L1639.3 240.2L1640.7 238.9L1642.5 237.8L1643.8 236.3L1645.1 234.7L1646.9 233.8L1648.5 232.6L1649.6 230.8L1650.9 229.3L1652.7 228.2L1654.1 226.8L1656.0 225.9L1658.1 225.8L1660.0 225.3L1661.8 224.4L1663.8 224.2L1665.8 224.0L1667.7 223.3L1669.8 223.2L1671.8 223.3L1673.7 222.4L1675.5 221.3L1677.4 220.9L1679.3 220.3L1681.2 219.4L1683.2 219.2L1685.2 219.0L1687.0 218.0L1688.8 217.2L1690.9 217.1L1692.8 216.6L1694.8 216.1L1696.8 216.1L1698.8 215.7L1700.6 214.6L1702.5 214.1L1704.6 214.2L1706.5 213.7L1708.5 213.3L1710.5 213.5L1712.5 213.0L1714.4 212.2L1716.5 212.4L1718.5 212.7L1720.5 212.4L1722.5 212.6L1724.5 212.9L1726.5 212.5L1728.5 212.2L1730.4 212.8L1732.2 213.7L1734.2 214.1L1736.1 214.8L1737.9 215.6L1740.0 215.6L1741.8 215.6L1743.8 215.9L1745.7 215.5L1747.5 214.5L1749.5 214.2L1751.4 213.9L1753.4 213.5L1755.2 214.6L1756.7 216.0L1758.6 216.8L1760.5 217.2L1762.5 217.4L1764.0 216.9"/>
<path stroke="#0000ff" d="M136.7 350.0L136.6 352.0L136.1 354.0L136.4 356.0L137.1 358.0L137.1 360.0L137.1 362.0L137.7 363.9L137.7 365.9L137.8 368.0L139.0 369.7L140.1 371.4L140.9 373.2L142.2 374.6L143.9 375.6L145.4 377.0L147.0 378.2L149.0 378.9L150.6 380.1L151.4 382.1L152.5 383.7L153.7 385.3L154.4 387.2L155.7 388.9L157.6 389.8L159.0 390.9L160.9 390.9L162.8 390.2L164.3 390.8L164.8 392.8L165.7 394.7L166.4 396.6L166.1 398.6L165.9 400.7L166.5 402.6L166.8 404.6L166.9 406.6L167.9 408.4L168.9 410.2L169.1 412.3L169.8 414.2L171.1 415.8L172.0 417.6L172.8 419.4L174.2 420.9L175.0 422.8L175.2 424.9L175.9 426.7L177.0 428.5L177.5 430.4L178.1 432.3L179.0 434.1L179.2 436.1L179.2 438.2L180.1 440.0L181.0 441.9L181.3 443.9L182.0 445.8L182.7 447.6L182.7 449.7L182.9 451.7L184.0 453.5L184.7 455.4L184.9 457.4L185.7 459.2L186.4 461.1L186.5 463.2L187.5 465.1L189.2 466.3L190.3 466.9L191.8 465.6L192.9 464.0L193.8 462.2L195.1 460.6L195.6 458.7L196.0 456.6L197.1 454.9L198.1 453.2L198.6 451.3L199.6 449.5L200.7 447.7L200.8 445.7L201.1 443.7L202.2 441.9L203.0 440.1L203.5 438.1L204.5 436.4L205.4 434.6L205.8 432.6L206.8 430.8L208.5 429.5L209.6 427.9L211.0 426.4L212.7 425.3L214.2 424.1L215.6 422.5L217.5 421.8L219.5 421.3L221.2 420.2L222.9 419.3L224.8 418.6L226.5 417.5L228.2 416.3L230.2 416.0L232.2 415.6L234.0 414.6L235.9 413.9L237.9 413.6L239.6 412.6L241.6 412.0L243.7 412.2L245.6 411.8L247.4 410.8L249.4 410.3L251.3 409.8L253.2 408.9L255.1 408.6L257.2 408.7L259.1 408.1L261.0 407.2L263.0 407.1L265.0 406.8L266.9 406.1L269.0 406.3L271.0 406.4L272.9 405.6L274.8 404.9L276.8 404.8L278.8 404.2L280.6 403.5L282.7 403.4L284.7 403.0L286.3 401.7L288.2 400.9L290.2 400.6L292.0 399.8L293.9 399.1L296.0 398.9L297.8 398.1L299.4 396.8L301.3 396.2L303.3 395.8L305.1 394.7L306.9 394.0L308.9 393.5L310.5 392.2L312.1 390.8L314.0 390.2L315.8 389.5L317.5 388.3L319.4 387.6L321.3 387.1L323.1 386.1L325.1 385.7L327.2 386.3L329.1 386.7L331.1 386.8L332.9 387.6L334.7 388.4L336.7 388.8L338.4 390.0L339.4 391.8L341.0 393.1L342.5 394.4L343.7 396.1L345.2 397.4L346.8 398.5L348.2 399.9L349.7 401.6L351.7 400.8L353.5 400.0L355.5 399.5L357.3 398.5L359.1 397.5L360.8 398.4L362.2 399.6L363.8 400.8L365.0 402.4L365.9 404.2L367.2 405.8L368.0 407.6L368.1 409.8L368.8 411.6L369.8 413.4L370.2 415.4L370.6 417.4L371.4 419.2L371.6 421.2L371.5 423.3L372.5 425.1L373.5 426.9L373.9 428.9L374.6 430.8L375.5 432.5L375.8 434.5L376.3 436.5L377.6 438.1L378.6 439.9L379.1 441.9L380.6 443.3L382.1 443.0L383.9 442.0L385.2 440.4L385.6 438.2L386.5 436.4L387.7 434.8L388.1 432.8L388.7 430.9L389.7 429.1L389.8 427.1L389.7 425.0L390.6 423.2L391.6 421.4L392.0 419.4L392.9 417.6L394.2 416.1L394.8 414.2L396.1 412.6L398.0 411.9L399.8 411.0L401.5 410.0L403.4 409.4L405.3 408.9L407.3 408.2L409.4 408.2L411.0 409.6L412.5 411.0L414.2 412.0L415.0 413.9L416.1 415.6L417.6 417.0L418.3 418.9L418.8 420.9L420.0 422.6L421.1 424.2L421.8 426.1L423.0 427.8L424.2 429.4L424.5 431.4L425.0 433.4L426.3 435.1L427.2 436.8L427.8 438.7L429.0 440.4L430.0 442.1L430.4 444.2L431.3 446.0L432.9 447.4L434.0 449.1L434.9 450.8L436.3 452.3L437.5 453.9L438.4 455.8L440.3 456.6L441.8 456.0L443.5 455.1L444.9 453.7L445.7 451.9L447.1 450.4L448.5 448.9L449.1 447.0L449.7 445.0L451.0 443.4L451.9 441.6L452.5 439.7L453.7 438.0L454.6 436.3L454.8 434.1L455.7 432.3L457.5 431.1L459.0 430.0L461.0 430.5L462.7 431.6L464.3 432.7L466.2 433.5L467.6 435.0L468.5 436.9L469.9 438.3L471.1 439.8L472.0 441.7L473.5 443.0L475.4 443.7L476.8 444.4L478.6 443.7L479.6 442.0L480.8 440.4L482.0 438.8L482.5 436.8L483.3 435.0L484.7 433.4L485.6 431.5L485.8 429.5L486.3 427.6L486.8 425.6L486.6 423.6L487.0 421.6L488.0 419.7L488.3 417.8L488.2 415.7L488.9 413.8L489.3 411.9L489.5 409.8L490.5 408.0L491.7 406.3L491.9 404.3L492.3 402.3L493.1 400.4L493.5 398.5L494.0 396.5L495.1 394.8L496.2 393.2L496.6 391.1L497.6 389.3L499.1 388.0L500.3 386.3L501.8 384.9L503.8 384.2L505.4 383.1L506.8 381.6L508.6 380.7L510.5 380.1L512.3 379.3L514.3 378.9L516.3 379.1L518.3 378.5L520.1 377.5L522.1 377.3L524.1 377.0L525.9 376.2L527.9 375.9L529.9 375.6L531.7 374.5L533.5 373.6L535.5 373.4L537.4 372.7L539.2 371.7L541.1 371.1L542.8 370.0L544.1 368.3L545.6 367.0L547.4 366.1L548.9 364.7L550.3 363.3L552.1 362.3L553.6 360.9L554.9 359.3L556.8 358.6L558.8 358.1L560.5 357.0L562.3 356.1L564.2 355.5L565.9 354.3L567.5 353.1L569.5 352.7L571.5 352.1L573.1 350.9L574.9 350.1L576.9 349.8L579.0 349.1L580.9 349.9L582.1 351.7L583.6 353.0L585.4 353.9L586.9 355.3L588.6 356.4L590.6 355.8L592.6 355.8L594.7 355.8L596.5 354.8L598.1 353.6L600.1 353.2L602.0 352.5L603.9 351.6L605.9 351.8L608.0 352.1L609.9 351.5L611.9 351.2L613.9 351.6L615.9 351.5L618.0 351.5L619.9 352.1L621.9 352.4L623.9 351.8L625.9 351.8L627.9 352.2L629.9 352.2L631.9 352.3L633.9 353.0L635.9 353.0L638.0 352.6L639.9 353.1L641.8 353.8L643.8 354.0L645.7 354.7L647.6 355.6L649.6 355.7L651.6 355.8L653.4 356.9L655.2 357.7L657.2 358.2L658.9 359.2L660.5 360.3L662.4 361.2L664.0 362.6L664.3 364.7L665.0 366.6L665.5 368.5L665.4 370.6L665.7 372.6L666.4 374.5L666.4 376.5L666.0 378.6L666.4 380.5L666.9 382.5L667.1 384.5L667.8 386.4L668.7 388.3L668.6 390.3L668.5 392.4L669.2 394.3L669.6 396.2L669.6 398.3L670.2 400.2L670.7 402.1L670.3 404.2L670.4 406.2L671.2 408.1L671.5 410.1L671.7 412.1L672.5 414.0L672.9 416.0L672.6 418.0L673.0 420.0L673.8 421.9L674.0 423.9L674.1 425.9L674.7 427.8L674.6 429.9L674.2 431.9L674.8 433.9L675.5 435.8L675.5 437.8L675.8 439.8L676.4 441.7L676.3 443.8L676.3 445.8L677.3 447.7L677.8 449.6L677.7 451.6L678.1 453.6L678.4 455.6L678.1 457.6L678.3 459.6L679.2 461.5L679.3 463.5L679.1 465.6L679.6 467.5L679.8 469.5L679.7 471.5L680.4 473.5L681.3 475.4L681.3 477.4L681.2 479.4L681.8 481.4L681.9 483.4L681.8 485.4L682.5 487.3L683.0 489.3L682.6 491.3L682.6 493.4L683.1 495.3L683.1 497.3L683.2 499.3L684.1 501.2L684.5 503.2L684.1 505.3L684.4 507.2L685.0 509.2L685.0 511.2L685.3 513.2L686.1 515.1L686.0 517.1L685.6 519.2L686.1 521.1L686.6 523.1L686.7 525.1L687.3 527.0L688.1 528.9L688.0 531.0L688.1 533.0L689.0 534.8L689.7 536.7L690.0 538.7L690.9 540.5L691.6 542.4L691.6 544.5L692.2 546.4L693.4 548.1L694.1 550.0L694.8 551.8L696.0 553.5L697.2 555.0L698.8 556.9L700.6 555.3L701.5 553.4L702.5 551.8L703.6 550.1L704.0 548.1L705.1 546.4L706.2 544.6L706.3 542.6L706.4 540.6L707.2 538.7L707.6 536.7L707.7 534.7L708.3 532.8L708.7 530.8L708.1 528.7L708.0 526.7L708.6 524.8L708.5 522.8L708.5 520.7L709.0 518.8L709.0 516.8L708.5 514.7L708.9 512.7L709.6 510.8L709.7 508.8L710.0 506.8L710.6 504.9L710.4 502.8L710.1 500.8L710.7 498.9L711.2 496.9L711.1 494.9L711.3 492.9L711.6 490.9L711.2 488.9L711.2 486.8L712.1 484.9L712.5 483.0L712.4 480.9L712.8 479.0L713.1 477.0L712.8 474.9L713.1 473.0L714.0 471.0L714.1 469.0L713.8 467.0L714.1 465.0L714.1 463.0L713.8 461.0L714.3 459.0L715.0 457.1L714.8 455.0L714.7 453.0L715.1 451.1L715.1 449.1L715.0 447.1L715.8 445.1L716.2 443.1L715.7 441.1L715.7 439.1L716.1 437.1L716.0 435.1L716.2 433.1L717.1 431.2L717.4 429.2L717.2 427.1L717.8 425.2L718.6 423.4L719.0 421.4L719.9 419.6L721.1 417.9L721.5 415.9L721.7 413.8L722.7 412.1L723.6 410.3L724.1 408.3L725.1 406.6L726.1 404.8L726.3 402.7L726.8 400.8L728.1 399.2L729.1 397.4L730.0 395.6L731.3 394.1L732.5 392.5L733.1 390.5L734.2 388.8L735.9 387.6L737.2 386.0L738.3 384.4L739.9 383.2L741.1 381.6L742.1 379.7L743.8 378.6L745.6 377.6L747.0 376.1L748.7 375.0L750.5 374.2L752.0 372.8L753.4 371.5L755.1 370.4L756.3 368.7L756.9 366.8L758.4 365.8L760.2 365.0L761.9 363.8L763.8 363.1L765.9 363.1L767.8 362.6L769.6 361.6L771.5 361.2L773.5 360.6L775.2 359.6L777.2 359.2L779.3 359.3L781.2 358.5L783.0 357.5L784.9 357.1L786.8 356.4L788.7 355.6L790.7 355.5L792.7 355.4L794.6 354.5L796.5 353.8L798.5 353.8L800.5 353.4L802.5 353.0L804.5 353.5L806.5 353.6L808.5 352.9L810.5 352.7L812.5 353.0L814.5 352.7L816.5 352.6L818.5 353.0L820.5 352.7L822.4 351.9L824.5 351.9L826.5 352.1L828.5 351.8L830.5 351.9L832.5 352.3L834.5 351.9L836.5 351.5L838.5 352.0L840.5 352.3L842.5 352.1L844.5 352.4L846.5 352.5L848.5 351.8L850.5 351.6L852.5 352.1L854.5 352.1L856.5 351.8L858.5 352.1L860.5 352.0L862.5 351.4L864.5 351.6L866.5 352.3L868.5 352.2L870.5 352.1L872.5 352.4L874.5 352.2L876.5 351.7L878.5 352.1L880.5 352.5L882.5 352.0L884.5 351.9L886.5 352.0L888.5 351.6L890.5 351.4L892.5 352.1L894.5 352.4L896.5 352.0L898.5 352.1L900.5 352.3L902.5 351.9L904.5 352.0L906.5 352.7L908.5 352.6L910.5 352.0L912.5 352.1L914.5 352.1L916.5 351.6L918.5 351.9L920.5 352.5L922.5 352.2L924.5 351.8L926.5 352.2L928.5 352.3L930.5 352.2L932.5 352.7L934.4 353.1L936.5 352.5L938.5 352.2L940.5 352.6L942.5 352.4L944.5 352.3L946.5 352.8L948.5 352.8L950.5 352.1L952.5 352.2L954.5 352.7L956.5 352.6L958.5 352.7L960.4 353.3L962.4 353.0L964.5 352.5L966.5 352.8L968.4 353.2L970.5 353.0L972.4 353.2L974.4 353.5L976.5 353.1L978.5 352.9L980.4 353.8L982.4 354.3L984.4 354.5L986.3 355.2L988.2 355.8L990.2 355.7L992.2 356.2L993.9 357.4L995.9 357.8L997.9 358.0L999.9 358.5L1001.9 358.8L1003.9 358.5L1005.9 359.0L1007.8 359.9L1009.8 359.9L1011.8 359.9L1013.7 360.5L1015.7 360.4L1017.7 360.1L1019.8 360.6L1021.8 360.3L1023.5 359.2L1025.4 358.5L1027.2 358.4L1029.1 359.0L1030.9 359.8L1032.4 361.3L1034.2 362.3L1036.3 361.8L1038.2 361.9L1040.2 361.9L1042.2 361.4L1044.2 361.4L1046.3 361.7L1048.2 361.2L1050.1 360.3L1052.1 360.2L1054.1 359.8L1056.0 359.1L1058.0 359.1L1060.0 359.1L1061.9 358.1L1063.8 357.3L1065.8 357.2L1067.7 356.8L1069.7 356.3L1071.7 356.4L1073.7 356.2L1075.6 355.2L1077.5 354.7L1079.6 354.8L1081.5 354.4L1083.5 353.9L1085.5 354.0L1087.5 353.5L1089.3 352.5L1091.3 352.3L1093.4 352.5L1095.3 352.0L1097.3 351.9L1099.4 352.1L1101.3 351.6L1103.3 351.0L1105.3 351.5L1107.3 351.8L1109.3 351.4L1111.3 351.5L1113.3 351.6L1115.3 350.9L1117.3 350.6L1119.3 351.2L1121.3 351.2L1123.3 350.8L1125.3 351.0L1127.3 351.0L1129.3 350.5L1131.3 350.7L1133.3 351.5L1135.3 351.5L1137.3 351.2L1139.3 351.5L1141.3 351.5L1143.3 351.0L1145.3 351.4L1147.3 351.9L1149.3 351.5L1151.3 351.2L1153.3 351.5L1155.3 351.3L1157.3 351.1L1159.3 351.8L1161.3 352.2L1163.3 351.8L1165.3 351.8L1167.3 352.2L1169.3 352.0L1171.3 352.0L1173.3 352.7L1175.3 352.7L1177.3 352.0L1179.3 352.1L1181.3 352.3L1183.3 352.0L1185.3 352.3L1187.3 352.9L1189.3 352.6L1191.3 352.2L1193.3 352.6L1195.3 352.9L1197.3 352.8L1199.3 353.2L1201.3 353.5L1203.3 352.9L1205.3 352.6L1207.3 353.0L1209.3 353.0L1211.3 352.8L1213.3 353.1L1215.3 353.2L1217.3 352.5L1219.3 352.5L1221.3 353.1L1223.3 353.1L1225.3 353.1L1227.3 353.5L1229.3 353.2L1231.3 352.6L1233.3 352.9L1235.3 353.3L1237.3 352.9L1239.3 352.8L1241.3 353.0L1243.3 352.4L1245.3 352.0L1247.3 352.6L1249.3 352.9L1251.3 352.6L1253.3 352.7L1255.3 352.9L1257.3 352.4L1259.3 352.3L1261.3 353.0L1263.3 353.0L1265.3 352.5L1267.3 352.6L1269.3 352.5L1271.3 352.0L1273.3 352.2L1275.3 352.8L1277.3 352.6L1279.3 352.4L1281.3 352.7L1283.3 352.8L1285.3 352.6L1287.3 353.3L1289.2 353.9L1291.2 353.6L1293.3 353.6L1295.2 354.1L1297.2 354.2L1299.2 354.3L1301.1 355.3L1303.0 355.9L1305.1 355.9L1307.0 356.5L1308.7 357.5L1310.6 358.2L1312.4 359.1L1313.9 360.6L1315.8 361.3L1317.8 361.7L1319.4 362.9L1321.0 364.2L1322.9 365.0L1324.4 366.2L1325.9 367.6L1327.9 368.3L1329.8 369.0L1331.2 370.5L1332.7 371.9L1334.4 372.9L1335.7 374.5L1337.0 376.0L1338.9 377.0L1340.3 378.3L1341.2 380.2L1342.3 381.8L1343.6 383.4L1344.4 385.2L1345.5 386.9L1347.0 388.4L1347.8 390.2L1348.2 392.3L1349.2 394.0L1350.2 395.7L1350.8 397.7L1351.9 399.3L1353.3 400.8L1353.9 402.8L1354.6 404.7L1356.0 406.2L1357.1 407.9L1358.0 409.6L1359.5 411.1L1360.8 412.7L1361.2 414.7L1361.9 416.6L1363.2 418.2L1364.0 420.0L1364.6 422.0L1365.7 423.7L1366.2 425.6L1366.2 427.8L1366.8 429.6L1367.9 431.4L1368.3 433.4L1368.9 435.3L1369.8 437.1L1370.1 439.1L1370.1 441.1L1371.0 443.0L1371.9 444.8L1372.1 446.8L1372.6 448.8L1373.3 450.7L1373.2 452.7L1373.3 454.8L1374.3 456.6L1375.0 458.5L1375.2 460.5L1376.1 462.3L1376.9 464.1L1377.2 466.2L1378.1 468.0L1379.7 469.5L1380.4 471.3L1380.9 473.3L1381.8 475.1L1382.3 477.1L1382.4 479.1L1383.2 481.0L1384.2 482.8L1384.3 484.8L1384.3 486.9L1385.0 488.8L1385.2 490.8L1385.4 492.8L1386.4 494.6L1387.3 496.4L1387.3 498.5L1387.6 500.5L1388.5 502.3L1388.8 504.3L1389.3 506.2L1390.5 508.0L1391.1 509.9L1391.1 512.0L1391.7 513.9L1392.5 515.7L1392.9 517.7L1393.7 519.5L1394.9 521.2L1395.2 523.2L1395.3 525.3L1396.2 527.1L1397.0 529.0L1397.3 531.0L1398.1 532.8L1398.9 534.7L1398.8 536.8L1398.8 538.8L1399.5 540.7L1400.0 542.7L1400.1 544.7L1400.8 546.6L1401.3 548.5L1401.1 550.6L1401.5 552.6L1402.6 554.4L1403.0 556.3L1403.4 558.3L1404.3 560.1L1404.6 562.1L1404.5 564.2L1405.2 566.1L1406.3 567.9L1406.6 569.8L1407.1 571.8L1408.0 573.6L1408.4 575.6L1408.8 577.6L1410.1 579.2L1411.4 580.8L1411.9 582.8L1412.8 584.6L1413.8 586.3L1414.2 588.3L1414.7 590.2L1416.0 591.9L1416.7 593.8L1416.9 595.8L1417.5 597.7L1418.1 599.7L1418.2 601.7L1418.9 603.6L1420.2 605.3L1420.7 607.2L1421.1 609.2L1422.1 611.0L1422.9 612.8L1423.6 614.7L1425.0 616.2L1426.4 617.7L1427.1 619.6L1427.8 621.5L1429.1 623.1L1429.9 624.9L1430.7 626.8L1432.0 628.3L1433.0 630.1L1433.3 632.1L1433.9 634.0L1435.0 635.7L1435.7 637.6L1436.5 639.4L1437.9 641.0L1438.6 642.9L1438.8 645.0L1439.7 646.8L1440.7 648.5L1441.2 650.5L1442.3 652.2L1443.6 653.6L1444.6 655.3L1446.4 656.4L1448.4 656.7L1450.3 657.1L1451.8 658.3L1453.1 659.8L1454.4 661.4L1454.6 663.5L1455.1 665.4L1456.3 667.1L1457.0 669.0L1457.4 671.0L1458.4 672.7L1459.1 674.6L1459.5 676.7L1460.5 678.4L1462.1 679.8L1463.1 681.4L1464.2 683.2L1465.6 684.6L1466.7 686.3L1467.5 688.2L1469.1 689.5L1470.7 690.7L1471.7 692.5L1472.8 694.2L1474.2 695.6L1475.1 697.5L1476.0 699.3L1477.7 700.5L1479.1 701.9L1479.9 703.8L1481.1 705.4L1482.5 706.9L1483.5 708.7L1484.9 710.2L1486.8 711.1L1488.2 712.5L1489.3 714.3L1490.8 715.5L1492.3 716.9L1493.5 718.5L1495.1 719.7L1497.1 720.5L1498.4 722.0L1499.8 723.5L1501.7 724.3L1503.6 725.0L1505.5 725.8L1507.6 725.6L1509.6 725.2L1511.6 725.7L1513.6 725.8L1515.5 725.3L1517.5 725.1L1519.5 725.1L1521.4 724.3L1523.4 724.1L1525.5 724.5L1527.5 724.2L1529.4 723.4L1531.4 723.0L1533.2 722.3L1534.8 721.0L1536.3 719.8L1538.2 718.7L1539.2 717.0L1540.0 715.1L1541.3 713.5L1542.6 712.0L1543.7 710.3L1545.5 709.3L1547.3 708.2L1548.4 706.5L1549.8 705.0L1551.5 703.9L1552.8 702.4L1554.2 701.0L1556.0 700.0L1557.5 698.7L1558.5 696.8L1559.7 695.2L1561.2 693.9L1562.3 692.2L1563.4 690.6L1564.9 689.2L1565.7 687.3L1566.1 685.3L1567.1 683.6L1568.2 681.8L1568.8 679.9L1569.7 678.1L1570.7 676.3L1570.8 674.3L1570.9 672.2L1571.7 670.4L1572.3 668.4L1572.5 666.4L1573.3 664.6L1574.0 662.7L1573.9 660.6L1574.3 658.6L1575.5 656.9L1576.1 655.0L1576.7 653.1L1577.8 651.3L1578.4 649.4L1578.5 647.3L1579.4 645.5L1580.6 643.9L1581.1 641.9L1581.6 640.0L1582.5 638.2L1582.9 636.2L1583.0 634.1L1584.1 632.4L1585.2 630.6L1585.6 628.6L1586.2 626.7L1587.1 624.9L1587.3 622.9L1587.7 620.9L1588.9 619.2L1589.6 617.3L1589.6 615.2L1590.1 613.3L1590.7 611.4L1590.7 609.3L1591.2 607.4L1592.3 605.6L1592.7 603.6L1592.7 601.6L1593.4 599.7L1593.9 597.8L1594.0 595.7L1594.9 593.9L1595.9 592.0L1595.9 590.0L1595.9 587.9L1596.5 586.0L1596.7 584.0L1596.8 582.0L1597.6 580.1L1598.2 578.2L1598.0 576.1L1598.2 574.1L1598.9 572.2L1599.1 570.3L1599.5 568.3L1600.4 566.4L1600.8 564.4L1600.4 562.4L1600.8 560.4L1601.4 558.5L1601.4 556.4L1601.8 554.5L1602.4 552.5L1602.3 550.5L1602.0 548.4L1602.6 546.5L1603.2 544.6L1603.3 542.6L1603.9 540.6L1604.5 538.7L1604.3 536.7L1604.4 534.6L1605.2 532.7L1605.7 530.8L1605.7 528.8L1606.2 526.8L1606.5 524.9L1606.1 522.8L1606.3 520.8L1607.2 518.9L1607.5 516.9L1607.5 514.9L1608.2 513.0L1608.4 511.0L1608.2 508.9L1608.8 507.0L1609.8 505.1L1609.8 503.1L1609.9 501.1L1610.4 499.1L1610.3 497.1L1610.1 495.1L1610.9 493.1L1611.4 491.2L1611.2 489.2L1611.4 487.2L1611.9 485.2L1611.8 483.2L1612.1 481.2L1613.2 479.3L1613.6 477.4L1613.5 475.3L1613.9 473.4L1614.3 471.4L1614.3 469.4L1614.7 467.4L1615.6 465.6L1615.6 463.5L1615.4 461.5L1616.0 459.5L1616.4 457.6L1616.5 455.6L1617.3 453.7L1618.2 451.8L1618.1 449.8L1618.2 447.7L1619.0 445.9L1619.4 443.9L1619.6 441.9L1620.5 440.0L1621.0 438.1L1620.7 436.0L1620.9 434.0L1621.7 432.1L1621.9 430.1L1622.2 428.1L1623.1 426.3L1623.3 424.3L1623.0 422.2L1623.5 420.3L1624.3 418.3L1624.3 416.3L1624.6 414.4L1625.1 412.4L1624.8 410.4L1624.4 408.3L1625.0 406.4L1625.5 404.4L1625.4 402.4L1625.9 400.4L1626.5 398.5L1626.4 396.4L1626.8 394.4L1628.1 392.7L1628.9 390.9L1629.3 388.9L1630.4 387.2L1631.2 385.4L1631.7 383.4L1632.8 381.8L1634.5 380.5L1635.5 378.8L1636.5 377.0L1638.0 375.6L1639.1 374.0L1640.1 372.1L1641.7 370.9L1643.5 369.9L1644.7 368.2L1646.1 366.8L1647.9 365.8L1649.4 364.5L1651.0 363.4L1653.1 363.0L1655.0 362.4L1656.6 361.1L1658.4 360.2L1660.4 359.8L1662.1 358.8L1664.1 358.2L1666.2 358.3L1668.1 357.7L1669.9 356.7L1671.9 356.5L1673.9 356.4L1675.9 355.8L1677.9 355.7L1680.0 355.9L1681.8 355.1L1683.7 354.2L1685.7 354.0L1687.7 353.7L1689.6 353.0L1691.6 353.0L1693.6 353.0L1695.6 352.2L1697.6 351.9L1699.6 352.4L1701.6 352.5L1703.6 352.5L1705.5 353.2L1707.5 353.4L1709.6 352.9L1711.6 353.0L1713.5 353.7L1715.5 353.7L1717.5 353.7L1719.5 354.3L1721.5 354.1L1723.6 353.6L1725.5 354.1L1727.5 354.7L1729.5 354.7L1731.5 355.0L1733.4 355.6L1735.4 355.4L1737.5 355.3L1739.4 356.0L1741.4 356.4L1743.4 356.0L1745.4 355.9L1747.4 355.5L1749.1 354.2L1750.9 353.4L1753.0 353.4L1755.0 352.9L1756.9 352.7L1758.5 354.0L1760.0 355.3L1761.3 356.0"/>
<path stroke="#008080" d="M135.6 508.0L135.9 506.0L135.8 504.0L135.6 502.0L136.3 500.0L136.9 498.1L136.6 496.0L136.6 494.0L137.5 492.2L137.9 490.3L139.8 490.2L141.0 491.7L142.3 493.0L143.7 494.6L144.2 496.6L144.3 498.6L144.7 500.6L144.8 502.6L144.4 504.6L144.7 506.6L145.3 508.6L145.0 510.6L144.7 512.6L145.0 514.6L144.8 516.6L144.5 518.6L145.1 520.6L145.6 522.6L145.1 524.6L145.1 526.6L145.3 528.6L145.0 530.6L144.8 532.6L145.4 534.6L145.4 536.6L144.7 538.6L144.6 540.6L144.8 542.6L144.4 544.6L144.6 546.6L145.2 548.6L145.1 550.6L144.6 552.6L145.0 554.6L145.2 556.6L145.0 558.6L145.4 560.6L145.9 562.6L145.3 564.6L144.9 566.6L145.2 568.6L145.2 570.6L145.0 572.6L145.5 574.6L145.7 576.6L145.1 578.6L145.0 580.6L145.6 582.6L145.7 584.6L145.7 586.6L146.3 588.5L146.3 590.5L146.3 592.8L146.8 590.6L146.7 588.5L147.1 586.6L147.4 584.6L147.3 582.6L147.9 580.6L148.6 578.7L148.2 576.6L148.0 574.6L148.4 572.6L148.5 570.6L148.4 568.6L149.2 566.7L149.6 564.7L149.8 562.4L150.9 564.1L150.8 566.1L151.1 568.1L151.3 570.1L150.9 572.2L151.2 574.1L152.1 576.1L152.2 578.1L152.1 580.1L152.6 582.0L152.8 584.0L152.6 586.1L153.4 588.0L153.8 589.2L153.9 588.1L154.6 586.2L154.7 584.2L155.1 582.2L155.6 580.2L155.3 578.2L155.3 576.2L156.2 574.3L156.1 573.0L156.5 574.7L156.5 576.7L156.6 578.7L157.4 580.7L157.4 582.7L156.9 584.7L157.1 586.7L157.5 588.7L157.5 590.7L158.1 592.6L159.0 594.4L159.8 596.0L161.0 597.8L162.7 598.8L164.4 599.9L165.8 601.4L167.6 602.4L168.6 604.2L168.6 606.3L168.8 608.3L169.5 610.2L169.7 612.2L169.6 614.2L170.1 616.2L170.2 618.2L169.6 620.3L170.0 622.3L171.0 624.1L172.0 625.8L173.3 627.3L175.0 628.4L176.3 630.0L176.1 632.1L176.8 634.0L177.4 636.0L177.1 638.0L177.0 639.9L177.4 641.9L177.2 644.0L177.5 646.0L179.0 647.5L180.4 648.9L181.4 650.7L182.8 652.1L184.1 653.7L184.8 655.5L185.5 657.4L186.9 659.0L187.4 660.9L187.5 663.0L188.1 664.9L188.5 666.9L188.5 668.9L189.3 670.8L190.4 672.5L190.9 674.4L191.3 676.4L192.3 678.2L193.5 679.8L194.7 681.5L196.5 682.4L198.3 681.5L200.3 681.5L202.3 681.3L204.2 680.5L206.2 680.2L207.8 680.6L209.4 681.9L210.6 683.5L211.2 685.6L212.2 687.3L213.7 688.8L215.7 688.5L217.6 687.8L219.3 686.6L221.3 686.1L221.8 688.2L223.0 689.9L224.2 691.5L224.9 693.4L226.0 692.4L227.1 690.7L229.0 689.7L230.7 689.2L232.6 689.0L234.6 688.9L236.4 689.8L238.4 690.0L240.4 690.3L242.3 691.2L244.3 691.6L246.3 691.0L248.3 690.8L250.3 690.8L252.2 690.2L254.2 689.9L256.3 690.2L258.2 689.5L259.9 688.4L261.7 687.6L263.5 686.8L265.1 685.6L267.0 684.8L268.9 684.1L270.3 682.6L272.1 681.6L274.1 681.5L276.0 680.9L277.8 680.0L279.5 679.2L281.1 677.9L281.9 676.0L282.8 674.3L284.4 672.9L285.5 671.2L286.4 669.4L287.8 668.0L288.8 666.2L289.2 664.1L290.2 662.4L291.6 660.9L292.3 659.0L293.2 657.2L294.3 655.5L294.9 653.6L295.3 651.6L296.6 650.0L297.9 648.4L298.6 646.5L299.5 644.7L300.6 643.0L301.0 641.0L301.5 639.0L302.9 637.4L303.8 635.6L304.1 633.6L304.9 631.8L305.7 629.9L305.8 627.8L306.6 626.0L307.9 624.4L308.6 622.5L308.9 620.5L309.9 618.7L310.5 616.8L310.8 614.8L311.8 613.0L313.0 611.3L313.3 609.3L313.5 607.2L314.3 605.4L314.7 603.4L314.9 601.4L316.0 599.7L316.9 597.8L317.0 595.8L317.5 593.8L318.4 592.0L318.9 590.1L319.4 588.2L320.7 586.4L321.3 584.5L321.3 582.4L321.8 580.5L322.6 578.7L322.9 576.6L323.5 574.7L324.5 573.0L324.7 570.9L324.7 568.9L325.5 567.0L326.3 565.2L326.6 563.2L327.5 561.3L328.4 559.5L328.4 557.4L328.6 555.4L329.6 553.6L330.3 551.7L330.6 549.8L331.6 548.0L332.4 546.1L332.5 544.0L333.4 542.2L334.8 540.7L335.8 539.0L336.9 537.2L338.3 535.8L339.4 534.1L340.1 532.2L341.5 530.7L343.0 529.3L343.9 527.5L344.8 525.7L345.9 524.0L346.3 522.0L346.6 520.0L347.7 518.3L348.8 516.5L349.1 514.5L349.7 512.6L350.6 510.8L350.9 508.8L351.6 506.9L353.0 505.3L353.9 503.5L354.4 501.5L355.3 499.8L356.3 498.1L356.8 496.1L358.0 494.4L359.5 493.1L360.6 491.4L362.1 489.8L364.0 490.6L365.8 491.6L367.5 492.7L368.5 494.6L369.4 496.4L370.9 497.7L372.3 499.2L373.2 501.0L374.4 502.6L375.6 504.2L377.0 505.8L378.8 506.3L379.8 504.2L380.6 502.4L381.7 500.7L382.3 498.8L383.4 497.1L384.9 495.7L386.3 494.4L387.6 492.8L389.4 491.9L391.5 491.9L393.4 491.4L394.6 492.7L395.4 494.5L396.9 495.9L398.2 497.5L398.7 499.5L399.3 501.4L400.6 502.9L401.5 504.6L402.7 503.7L403.1 501.6L403.8 499.8L405.1 498.2L406.0 496.4L406.8 494.6L408.4 493.5L409.8 492.1L411.3 490.7L413.2 490.0L415.1 490.6L417.1 490.9L419.0 491.6L420.6 492.8L422.3 493.8L424.2 494.7L425.4 496.4L426.3 498.3L427.8 499.6L429.0 501.2L429.8 503.1L431.1 504.6L432.3 506.2L432.6 508.3L433.2 510.2L434.4 511.9L435.2 513.7L435.6 515.7L436.6 517.5L437.0 519.5L436.7 521.6L437.1 523.5L438.0 525.4L438.2 527.4L438.5 529.4L439.2 531.3L439.3 533.3L439.1 535.4L439.9 537.2L440.7 539.1L440.9 541.1L441.4 543.1L442.2 544.9L442.3 546.9L443.4 548.6L444.0 546.4L444.7 544.6L445.6 542.8L446.2 540.9L446.7 539.0L447.7 537.2L448.2 535.2L447.9 533.1L448.1 531.1L448.8 529.2L448.9 527.2L449.2 525.2L450.0 523.3L450.2 521.3L450.0 519.2L450.8 517.4L451.8 515.6L452.4 513.7L453.4 511.9L454.8 510.5L455.6 508.6L456.5 506.8L458.3 505.7L459.9 504.5L461.2 502.9L462.9 501.9L464.6 501.1L466.4 499.8L468.5 499.8L470.2 501.2L471.9 502.1L473.7 503.1L475.2 504.5L477.0 505.4L479.0 505.5L480.7 505.8L482.8 505.3L484.3 503.9L485.3 502.1L486.8 500.8L488.1 499.2L489.2 497.4L491.2 496.7L493.2 496.1L494.7 494.8L496.5 493.8L498.5 493.3L500.3 492.4L502.2 491.8L504.3 491.9L506.2 491.6L508.1 490.7L510.0 490.3L512.0 490.1L514.0 489.5L516.0 489.3L518.0 489.6L520.0 489.2L521.9 488.5L523.9 488.5L525.9 488.7L527.9 488.4L529.9 488.8L531.9 489.4L533.9 489.2L536.0 488.9L537.9 489.6L539.9 489.9L541.9 490.0L543.8 490.7L545.8 491.1L547.8 490.6L549.9 490.7L551.8 491.4L553.8 491.6L555.8 491.8L557.7 492.6L559.7 492.8L561.7 492.5L563.7 492.7L565.7 493.3L567.7 493.1L569.6 492.6L571.7 492.5L573.5 491.4L575.2 490.2L577.3 490.2L579.3 490.2L581.3 490.2L583.2 490.7L585.0 491.7L587.0 492.0L588.9 492.5L590.7 493.6L592.7 494.1L594.7 493.6L596.7 493.4L598.6 492.9L600.4 491.8L602.4 491.4L604.5 491.6L606.4 491.4L608.4 490.9L610.4 491.0L612.4 491.0L614.4 490.6L616.4 491.2L618.3 492.1L620.4 492.0L622.4 492.1L624.3 492.7L626.3 493.0L628.3 493.1L630.1 494.1L631.9 494.9L634.0 494.9L636.0 495.4L637.8 496.3L639.7 497.0L641.5 497.9L642.7 499.7L644.2 501.0L646.1 501.9L647.3 503.5L648.3 505.2L649.7 506.7L650.8 508.4L651.5 510.3L652.9 511.8L654.5 513.1L655.4 515.0L656.2 516.8L657.5 518.4L658.1 520.3L658.7 522.2L660.0 523.8L661.0 525.6L661.2 527.7L661.7 529.6L662.4 531.5L662.5 533.5L662.9 535.5L664.1 537.3L664.6 539.2L664.5 541.3L665.0 543.2L665.5 545.1L665.6 547.2L666.1 549.1L667.0 551.0L667.1 553.0L666.8 555.1L667.3 557.0L667.6 559.0L667.5 561.0L668.2 562.9L668.9 564.9L668.6 566.9L668.6 568.9L669.3 570.9L669.6 572.8L669.8 574.8L670.6 576.7L671.0 578.7L670.6 580.8L670.7 582.8L671.3 584.7L671.4 586.7L671.4 588.7L672.1 590.7L672.0 592.7L671.6 594.7L672.0 596.7L672.7 598.6L672.7 600.7L673.0 602.6L673.6 604.6L673.4 606.6L673.1 608.6L673.7 610.6L674.2 612.6L674.0 614.6L674.2 616.6L674.4 618.6L673.9 620.6L673.8 622.6L674.6 624.6L674.9 626.6L674.7 628.6L675.1 630.6L675.4 632.5L675.0 634.6L675.3 636.6L676.2 638.5L676.1 640.5L675.9 642.5L676.2 644.5L676.1 646.5L675.7 648.6L676.2 650.5L676.8 652.5L676.5 654.5L676.5 656.5L676.9 658.5L676.8 660.5L676.8 662.5L677.6 664.5L678.1 666.4L677.7 668.5L677.7 670.5L678.0 672.5L677.8 674.5L677.9 676.5L678.6 678.4L678.5 680.4L678.0 682.5L678.3 684.5L678.6 686.4L678.5 688.5L678.9 690.4L679.6 692.4L679.4 694.4L679.1 696.4L679.5 698.4L679.7 700.4L679.6 702.4L680.0 704.4L680.2 706.4L679.6 708.4L679.3 710.4L679.8 712.4L679.9 714.4L679.8 716.4L680.4 718.4L680.5 720.4L679.9 722.4L680.1 724.4L680.7 726.4L680.7 728.4L680.7 730.4L681.1 732.4L680.9 734.4L680.3 736.4L680.7 738.4L681.2 740.4L681.0 742.4L681.1 744.4L681.6 746.4L681.3 748.4L681.1 750.4L682.0 752.4L682.4 754.3L682.3 756.3L682.5 758.3L682.8 760.3L682.3 762.4L682.4 764.4L683.1 766.3L683.2 768.3L682.8 770.3L683.1 772.3L683.2 774.3L682.9 776.3L683.4 778.3L684.2 780.3L684.1 782.3L684.0 784.3L684.4 786.3L684.4 788.3L684.2 790.3L684.8 792.3L685.3 794.2L684.8 796.3L684.6 798.3L685.0 800.3L684.9 802.3L684.9 804.3L685.7 806.2L686.0 808.2L685.5 810.2L685.7 812.2L686.2 814.2L686.1 816.2L686.4 818.2L687.0 820.2L686.9 822.2L686.3 824.2L686.6 826.2L686.9 828.2L686.7 830.2L687.0 832.2L687.5 834.2L687.2 836.2L686.9 838.2L687.6 840.2L688.0 842.1L688.0 844.2L688.5 846.1L688.9 848.1L688.4 850.1L688.4 852.2L689.0 854.1L689.1 856.1L689.1 858.1L689.5 860.1L689.6 862.1L689.1 864.1L689.6 866.1L690.4 868.0L690.5 870.0L690.8 872.0L691.4 873.9L691.4 876.0L691.3 878.0L692.1 879.9L692.9 881.8L692.9 883.8L693.2 885.8L693.8 887.7L693.8 889.8L694.6 891.9L696.2 891.9L697.2 890.2L698.3 888.5L698.8 886.6L699.3 884.7L700.2 882.8L700.6 880.9L700.4 878.8L700.9 876.9L701.8 875.0L702.0 873.0L702.3 871.0L703.0 869.1L702.9 867.1L702.6 865.0L703.2 863.1L703.7 861.1L703.5 859.1L703.7 857.1L704.0 855.1L703.6 853.1L703.5 851.0L704.3 849.1L704.7 847.1L704.6 845.1L705.0 843.2L705.4 841.2L705.1 839.1L705.4 837.2L706.3 835.2L706.4 833.2L706.2 831.2L706.6 829.2L706.6 827.2L706.2 825.2L706.7 823.2L707.4 821.3L707.3 819.3L707.2 817.2L707.7 815.3L707.7 813.3L707.7 811.3L708.6 809.3L709.2 807.4L708.9 805.3L708.9 803.3L709.4 801.4L709.2 799.4L709.3 797.4L710.1 795.4L710.2 793.4L709.8 791.4L710.0 789.4L710.5 787.4L710.4 785.4L710.9 783.4L711.7 781.5L711.7 779.5L711.3 777.5L711.8 775.5L712.2 773.5L712.0 771.5L712.5 769.5L712.9 767.5L712.4 765.5L712.1 763.5L712.6 761.5L712.8 759.5L712.8 757.5L713.4 755.6L713.6 753.6L713.2 751.5L713.3 749.5L714.0 747.6L714.1 745.6L714.1 743.6L714.6 741.6L714.4 739.6L713.8 737.5L714.2 735.6L714.7 733.6L714.6 731.6L714.7 729.6L715.1 727.6L714.9 725.6L714.7 723.6L715.4 721.6L716.0 719.6L715.8 717.6L716.0 715.6L716.2 713.7L715.8 711.6L715.8 709.6L716.5 707.7L716.7 705.7L716.4 703.6L716.6 701.6L716.8 699.7L716.6 697.6L717.0 695.7L718.0 693.7L718.1 691.7L718.0 689.7L718.5 687.8L718.7 685.8L718.6 683.7L719.3 681.8L719.9 679.9L719.6 677.8L719.5 675.8L720.0 673.8L720.0 671.8L720.0 669.8L720.8 667.9L721.2 665.9L720.9 663.9L721.0 661.9L721.6 659.9L721.6 657.9L721.8 655.9L722.5 654.0L722.4 652.0L721.8 649.9L722.1 647.9L722.4 646.0L722.2 643.9L722.5 642.0L723.1 640.0L722.8 638.0L722.5 635.9L723.1 634.0L723.5 632.0L723.5 630.0L724.0 628.0L724.4 626.1L723.9 624.0L723.8 622.0L724.4 620.0L724.6 618.0L724.5 616.0L724.9 614.1L725.0 612.1L724.6 610.0L724.9 608.0L725.7 606.1L725.9 604.1L726.0 602.1L726.5 600.2L726.5 598.1L726.2 596.1L726.8 594.2L727.5 592.2L727.3 590.2L727.3 588.2L727.7 586.2L727.5 584.2L727.4 582.1L728.3 580.2L728.9 578.3L728.8 576.3L729.2 574.3L729.7 572.4L729.7 570.3L730.1 568.4L731.2 566.5L731.6 564.6L731.5 562.5L732.0 560.6L732.4 558.6L732.5 556.6L733.2 554.7L734.2 552.9L734.3 550.8L734.3 548.8L735.0 546.9L735.5 545.0L735.7 543.0L736.6 541.1L737.4 539.2L737.3 537.2L737.4 535.2L738.2 533.3L738.5 531.3L738.8 529.3L739.8 527.5L740.3 525.6L740.2 523.5L740.8 521.5L741.9 519.8L742.4 517.8L743.2 516.0L744.5 514.4L745.0 512.4L745.3 510.4L746.4 508.7L747.6 507.1L748.4 505.2L749.5 503.5L750.7 501.9L751.3 500.0L752.1 498.0L753.7 496.8L755.3 495.5L756.6 493.9L758.4 493.1L760.3 492.3L761.8 490.9L763.8 490.5L765.9 490.7L767.9 490.3L769.8 489.9L771.8 490.0L773.8 489.8L775.8 489.2L777.8 489.5L779.8 490.1L781.8 490.0L783.8 489.9L785.8 490.3L787.8 490.2L789.8 489.9L791.8 490.6L793.8 491.1L795.8 490.7L797.8 490.5L799.8 490.6L801.8 490.2L803.7 489.9L805.8 490.4L807.8 490.4L809.8 489.7L811.8 489.7L813.8 489.9L815.8 489.5L817.8 489.8L819.7 490.5L821.7 490.5L823.8 490.0L825.7 490.4L827.7 490.6L829.8 490.5L831.7 491.0L833.6 491.7L835.7 491.6L837.7 491.6L839.6 492.4L841.5 493.0L843.4 493.5L845.1 494.7L846.9 495.6L849.0 495.8L850.9 496.5L852.5 497.8L854.4 498.5L856.2 499.3L857.8 500.5L859.7 501.2L861.9 501.3L863.7 502.2L865.4 503.2L867.4 503.7L869.3 504.2L871.1 505.2L873.1 505.3L875.2 505.3L877.0 506.2L878.9 506.9L880.9 507.0L882.9 507.3L884.9 507.6L886.9 507.1L888.9 506.8L890.9 507.3L892.9 507.2L894.9 506.6L896.9 506.5L898.9 506.3L900.7 505.4L902.7 505.1L904.8 505.3L906.7 504.7L908.6 503.9L910.6 503.6L912.4 502.9L914.2 501.8L916.2 501.6L918.3 501.5L920.1 500.5L921.9 499.5L923.8 499.1L925.6 498.1L927.4 497.2L929.5 497.2L931.5 496.9L933.3 495.9L935.2 495.3L937.2 495.0L939.1 494.3L941.1 493.9L943.1 494.2L945.1 493.8L947.0 492.8L949.0 492.5L951.0 492.4L952.9 491.8L954.9 491.8L956.9 492.2L958.9 491.7L960.9 491.1L962.9 491.3L964.9 491.4L966.9 491.1L968.9 491.4L970.9 491.7L972.9 491.0L974.9 490.5L976.9 490.7L978.9 490.6L980.9 490.3L982.9 490.6L984.9 490.6L986.9 490.0L988.9 490.2L990.8 491.1L992.7 491.6L994.5 492.5L996.0 493.9L997.7 494.9L999.6 495.7L1001.3 496.7L1003.2 497.9L1004.8 496.5L1006.4 495.3L1008.2 494.3L1009.5 492.7L1011.1 491.1L1012.8 492.0L1013.8 493.8L1015.3 495.2L1016.4 496.9L1017.5 498.7L1018.4 497.2L1019.3 495.4L1020.9 494.1L1021.9 492.4L1023.0 491.1L1025.0 490.6L1026.9 490.7L1029.0 490.3L1030.9 490.5L1032.9 491.2L1034.9 491.0L1036.9 490.6L1038.9 490.9L1040.9 490.8L1042.9 490.6L1044.9 491.1L1046.9 491.6L1048.9 491.2L1050.9 490.9L1052.9 491.1L1054.9 490.9L1056.9 490.6L1058.9 491.2L1060.9 491.3L1062.9 490.6L1064.9 490.5L1066.9 490.8L1068.9 490.6L1070.9 490.8L1072.9 491.4L1074.9 491.3L1076.9 490.8L1078.9 491.0L1080.9 491.2L1082.9 491.0L1084.9 491.1L1086.9 491.5L1088.9 491.0L1090.9 490.4L1092.9 490.8L1094.9 490.9L1096.9 490.7L1098.9 491.1L1100.9 491.4L1102.9 490.8L1104.9 490.7L1106.9 491.3L1108.9 491.4L1110.9 491.2L1112.9 491.5L1114.9 491.4L1116.9 490.7L1118.9 490.7L1120.9 491.2L1122.9 491.0L1124.9 490.9L1126.9 491.2L1128.9 491.0L1130.9 490.6L1132.9 491.1L1134.9 491.6L1136.9 491.4L1138.9 491.4L1140.9 491.6L1142.9 491.1L1144.9 490.8L1146.9 491.4L1148.9 491.5L1150.9 491.0L1152.9 491.0L1154.9 491.2L1156.9 490.7L1158.9 490.8L1160.9 491.6L1162.9 491.6L1164.9 491.2L1166.9 491.5L1168.9 491.5L1170.9 491.2L1172.9 491.5L1174.9 492.0L1176.9 491.6L1178.9 491.2L1180.9 491.4L1182.9 491.3L1184.9 491.1L1186.9 491.7L1188.9 492.1L1190.9 491.6L1192.9 491.5L1194.9 492.0L1196.9 492.0L1198.9 491.9L1200.9 492.6L1202.9 492.6L1204.9 491.9L1206.9 491.9L1208.9 492.2L1210.9 492.0L1212.9 492.1L1214.9 492.6L1216.9 492.4L1218.9 491.9L1220.9 492.3L1222.9 492.7L1224.9 492.6L1226.9 492.9L1228.9 493.3L1230.9 492.8L1232.9 492.4L1234.9 492.9L1236.9 493.0L1238.9 492.7L1240.9 492.9L1242.9 493.0L1244.9 492.4L1246.9 492.4L1248.9 493.1L1250.9 493.2L1252.9 493.0L1254.9 493.4L1256.9 493.3L1258.9 492.7L1260.9 493.0L1262.9 493.5L1264.9 493.2L1266.9 492.9L1268.9 493.0L1270.9 492.6L1272.9 492.1L1274.9 492.5L1276.9 492.9L1278.9 492.4L1280.9 492.2L1282.9 492.3L1284.8 491.6L1286.7 490.9L1288.8 491.0L1290.7 490.4L1292.5 489.4L1294.4 488.9L1296.3 489.1L1298.4 489.3L1300.3 490.0L1301.7 491.6L1303.5 492.4L1305.5 493.1L1307.0 494.5L1308.5 495.8L1310.2 497.0L1311.3 498.6L1312.4 500.4L1314.0 501.6L1315.6 502.8L1316.6 504.6L1317.9 506.1L1319.3 507.6L1320.1 509.5L1321.1 511.2L1322.8 512.5L1324.0 514.1L1324.6 516.1L1325.6 517.8L1326.5 519.6L1326.8 521.7L1327.7 523.4L1329.1 525.0L1329.7 526.9L1330.0 529.0L1330.9 530.8L1331.6 532.6L1331.9 534.6L1333.0 536.4L1334.2 538.1L1334.4 540.1L1334.7 542.1L1335.6 544.0L1336.0 545.9L1336.3 547.9L1337.4 549.7L1338.2 551.5L1338.2 553.6L1338.6 555.6L1339.6 557.4L1340.0 559.3L1340.7 561.2L1341.9 562.9L1342.5 564.8L1342.5 566.9L1343.3 568.8L1344.1 570.6L1344.4 572.6L1345.1 574.5L1346.0 576.3L1346.1 578.4L1346.0 580.5L1346.8 582.3L1347.5 584.2L1347.8 586.2L1348.6 588.1L1349.4 589.9L1349.3 592.0L1349.6 594.0L1350.6 595.8L1351.2 597.7L1351.4 599.7L1352.1 601.6L1352.5 603.6L1352.2 605.7L1352.5 607.7L1353.5 609.5L1353.8 611.5L1354.0 613.5L1354.7 615.4L1355.0 617.4L1354.9 619.4L1355.7 621.3L1356.7 623.1L1356.9 625.2L1357.2 627.1L1357.9 629.0L1357.9 631.1L1357.9 633.1L1358.8 635.0L1359.4 636.9L1359.3 639.0L1359.6 640.9L1360.1 642.9L1360.1 644.9L1360.4 646.9L1361.5 648.7L1362.0 650.7L1361.9 652.7L1362.4 654.6L1362.9 656.6L1362.8 658.6L1363.3 660.6L1364.2 662.5L1364.2 664.5L1363.9 666.6L1364.4 668.5L1364.7 670.5L1364.7 672.5L1365.5 674.4L1366.3 676.3L1366.1 678.4L1366.3 680.4L1367.1 682.3L1367.4 684.2L1367.7 686.2L1368.6 688.1L1369.1 690.0L1368.7 692.1L1369.0 694.1L1369.7 696.0L1369.9 698.0L1370.2 700.0L1371.1 701.8L1371.3 703.8L1371.0 705.9L1371.7 707.8L1372.5 709.7L1372.7 711.7L1373.2 713.7L1373.9 715.6L1373.7 717.6L1373.5 719.7L1374.2 721.6L1374.7 723.6L1374.6 725.6L1375.1 727.5L1375.5 729.5L1375.2 731.6L1375.3 733.6L1376.3 735.5L1376.7 737.4L1376.8 739.4L1377.4 741.4L1377.7 743.3L1377.4 745.4L1377.9 747.3L1378.8 749.2L1378.9 751.2L1378.8 753.3L1379.3 755.2L1379.3 757.2L1379.2 759.3L1380.0 761.2L1380.8 763.1L1380.8 765.1L1381.1 767.1L1381.7 769.0L1381.8 771.0L1382.0 773.0L1383.0 774.9L1383.6 776.8L1383.3 778.9L1383.6 780.9L1384.1 782.8L1384.0 784.9L1384.3 786.8L1385.3 788.7L1385.5 790.7L1385.4 792.7L1386.0 794.7L1386.5 796.6L1386.6 798.6L1387.4 800.5L1388.3 802.4L1388.3 804.4L1388.2 806.5L1388.8 808.4L1389.2 810.3L1389.3 812.4L1390.0 814.3L1390.6 816.2L1390.3 818.3L1390.4 820.3L1391.3 822.2L1391.6 824.1L1392.0 826.1L1393.0 827.9L1393.4 829.9L1393.1 832.0L1393.6 833.9L1394.5 835.8L1394.7 837.8L1395.0 839.8L1395.7 841.7L1395.7 843.7L1395.5 845.8L1396.2 847.7L1397.0 849.6L1397.1 851.6L1397.7 853.5L1398.4 855.4L1398.4 857.5L1398.5 859.5L1399.5 861.3L1400.1 863.2L1400.2 865.2L1400.7 867.2L1401.1 869.2L1400.8 871.2L1401.1 873.2L1402.0 875.1L1402.3 877.1L1402.3 879.1L1402.9 881.0L1403.2 883.0L1403.1 885.0L1403.9 886.9L1404.9 888.8L1405.0 890.8L1405.1 892.8L1405.6 894.7L1405.7 896.8L1405.7 898.8L1406.6 900.7L1407.2 902.6L1407.0 904.7L1407.2 906.7L1407.9 908.6L1408.0 910.6L1408.4 912.5L1409.6 914.3L1410.2 916.3L1410.1 918.3L1410.7 920.2L1411.4 922.1L1411.6 924.1L1412.2 926.0L1413.2 927.8L1413.4 929.9L1413.3 932.0L1414.0 933.9L1414.7 935.7L1415.0 937.7L1415.9 939.6L1416.9 941.3L1417.0 943.4L1417.3 945.4L1418.4 947.2L1419.1 949.0L1419.5 951.0L1420.5 952.8L1421.2 954.6L1421.1 956.8L1421.6 958.7L1422.7 960.5L1423.3 962.4L1423.9 964.3L1425.0 966.0L1425.7 967.9L1425.9 970.0L1427.0 971.7L1428.4 973.3L1429.1 975.1L1429.9 977.0L1431.0 978.7L1431.4 980.7L1431.7 982.7L1432.9 984.4L1433.9 986.1L1434.3 988.1L1435.0 990.0L1435.9 991.8L1436.2 993.8L1436.9 995.7L1438.3 997.3L1439.3 999.0L1439.9 1001.0L1440.9 1002.7L1441.9 1004.5L1442.3 1006.5L1443.3 1008.2L1444.7 1009.7L1445.4 1011.6L1445.8 1013.7L1446.8 1015.4L1447.4 1017.3L1447.8 1019.3L1449.0 1021.0L1450.2 1022.7L1450.5 1024.7L1450.9 1026.6L1451.8 1028.5L1452.3 1030.4L1452.7 1032.4L1453.9 1034.1L1454.7 1035.9L1454.7 1038.0L1455.2 1040.0L1456.1 1041.8L1456.5 1043.8L1457.3 1045.6L1458.7 1047.2L1459.5 1049.0L1459.8 1051.1L1460.9 1052.8L1462.2 1054.4L1463.0 1056.2L1464.1 1057.9L1465.5 1059.4L1466.0 1061.4L1466.4 1063.5L1467.5 1065.1L1468.5 1066.9L1469.0 1068.8L1470.1 1070.6L1471.1 1072.3L1471.3 1074.4L1471.9 1076.3L1473.3 1077.9L1474.2 1079.7L1474.9 1081.5L1476.1 1083.2L1476.9 1085.0L1477.0 1087.1L1477.8 1089.0L1479.1 1090.6L1479.8 1092.5L1480.5 1094.4L1481.7 1096.0L1482.6 1097.8L1483.3 1099.7L1484.9 1101.0L1486.7 1102.1L1488.0 1103.6L1489.5 1104.9L1491.3 1105.9L1492.7 1107.4L1494.1 1108.9L1496.1 1109.5L1498.0 1110.2L1499.5 1111.5L1501.3 1112.0L1503.3 1112.1L1505.3 1112.8L1507.3 1113.0L1509.3 1112.7L1511.0 1113.9L1512.3 1115.5L1514.1 1116.4L1515.9 1117.3L1517.7 1118.2L1519.5 1116.9L1520.9 1115.4L1522.6 1114.4L1524.4 1113.5L1525.9 1112.2L1527.8 1111.4L1529.7 1110.8L1531.3 1109.5L1533.0 1108.4L1535.0 1108.1L1537.0 1107.6L1538.8 1106.7L1540.7 1106.0L1542.5 1105.2L1543.7 1103.5L1544.7 1101.8L1546.3 1100.5L1547.2 1098.7L1547.7 1096.7L1548.8 1095.0L1549.7 1093.3L1550.3 1091.3L1551.6 1089.7L1553.3 1088.4L1554.2 1086.7L1555.6 1085.3L1557.3 1084.4L1558.8 1083.0L1560.0 1081.4L1561.4 1080.0L1562.8 1078.5L1563.2 1076.4L1563.8 1074.5L1564.8 1072.7L1565.3 1070.8L1565.8 1068.9L1567.0 1067.2L1567.7 1065.3L1567.5 1063.2L1568.0 1061.2L1568.8 1059.4L1569.3 1057.5L1570.5 1055.8L1572.1 1054.5L1572.9 1052.7L1573.4 1050.6L1574.6 1049.0L1575.3 1047.2L1575.5 1045.2L1576.2 1043.3L1577.0 1041.4L1576.8 1039.4L1576.7 1037.3L1577.5 1035.5L1578.1 1033.5L1578.4 1031.6L1579.4 1029.8L1580.2 1028.0L1580.4 1025.9L1580.9 1024.0L1582.1 1022.3L1582.8 1020.4L1583.3 1018.5L1584.4 1016.7L1584.9 1014.8L1584.8 1012.7L1585.5 1010.8L1586.6 1009.0L1587.0 1007.1L1587.4 1005.1L1588.2 1003.2L1588.2 1001.2L1588.1 999.1L1588.8 997.2L1589.5 995.3L1589.4 993.3L1589.6 991.3L1590.1 989.3L1589.9 987.3L1590.0 985.3L1591.0 983.4L1591.5 981.5L1591.5 979.4L1592.0 977.5L1592.4 975.5L1592.3 973.5L1592.7 971.5L1593.6 969.6L1593.8 967.7L1593.6 965.6L1594.1 963.6L1594.3 961.7L1594.2 959.6L1594.9 957.7L1595.8 955.8L1595.8 953.8L1595.8 951.8L1596.5 949.8L1596.7 947.9L1596.8 945.9L1597.7 944.0L1598.3 942.0L1597.9 939.9L1597.9 937.9L1598.4 936.0L1598.4 934.0L1598.5 932.0L1599.4 930.0L1599.6 928.1L1599.2 926.0L1599.6 924.0L1600.2 922.1L1600.3 920.1L1600.7 918.1L1601.5 916.2L1601.4 914.2L1601.1 912.1L1601.5 910.2L1602.0 908.2L1601.8 906.2L1602.2 904.2L1602.7 902.2L1602.3 900.2L1602.2 898.2L1603.0 896.2L1603.4 894.3L1603.4 892.3L1604.0 890.3L1604.4 888.3L1604.0 886.3L1604.1 884.3L1604.9 882.4L1605.0 880.4L1604.9 878.3L1605.4 876.4L1605.3 874.4L1604.8 872.3L1605.3 870.3L1606.0 868.4L1606.0 866.4L1606.1 864.4L1606.6 862.4L1606.5 860.4L1606.4 858.4L1607.1 856.5L1607.7 854.5L1607.4 852.5L1607.5 850.5L1607.8 848.5L1607.5 846.4L1607.4 844.4L1608.2 842.5L1608.5 840.5L1608.1 838.5L1608.4 836.5L1608.8 834.5L1608.6 832.5L1609.0 830.5L1609.9 828.6L1609.9 826.6L1609.6 824.5L1609.9 822.6L1610.0 820.6L1609.8 818.5L1610.3 816.6L1610.9 814.6L1610.5 812.6L1610.2 810.6L1610.7 808.6L1610.8 806.6L1610.9 804.6L1611.7 802.6L1612.1 800.7L1611.6 798.6L1611.7 796.6L1612.3 794.7L1612.2 792.7L1612.3 790.7L1612.9 788.7L1612.9 786.7L1612.3 784.6L1612.5 782.7L1613.0 780.7L1613.0 778.7L1613.3 776.7L1613.9 774.7L1613.7 772.7L1613.5 770.7L1614.1 768.7L1614.6 766.8L1614.5 764.8L1614.9 762.8L1615.2 760.8L1614.6 758.7L1614.5 756.7L1615.2 754.8L1615.4 752.8L1615.2 750.8L1615.7 748.8L1615.9 746.8L1615.5 744.8L1615.8 742.8L1616.7 740.8L1616.8 738.9L1616.7 736.8L1617.2 734.9L1617.1 732.9L1616.7 730.8L1617.2 728.9L1617.8 726.9L1617.5 724.9L1617.5 722.9L1617.8 720.9L1617.7 718.9L1617.6 716.8L1618.5 714.9L1619.0 712.9L1618.7 710.9L1618.9 708.9L1619.3 706.9L1619.0 704.9L1619.2 702.9L1619.9 701.0L1620.0 699.0L1619.4 696.9L1619.6 694.9L1619.9 692.9L1619.6 690.9L1620.1 689.0L1620.8 687.0L1620.7 685.0L1620.4 683.0L1620.9 681.0L1621.2 679.0L1621.2 677.0L1621.8 675.1L1622.3 673.1L1621.9 671.0L1621.7 669.0L1622.3 667.1L1622.4 665.1L1622.4 663.1L1623.1 661.1L1623.3 659.1L1622.9 657.1L1623.2 655.1L1624.0 653.2L1624.1 651.2L1624.4 649.2L1625.1 647.3L1625.0 645.2L1624.6 643.2L1625.1 641.2L1625.7 639.3L1625.6 637.3L1625.9 635.3L1626.4 633.3L1626.2 631.3L1626.1 629.2L1627.0 627.3L1627.6 625.4L1627.7 623.4L1628.2 621.5L1628.7 619.5L1628.4 617.4L1628.7 615.5L1629.6 613.6L1629.9 611.6L1629.8 609.6L1630.2 607.6L1630.3 605.6L1630.0 603.5L1630.5 601.6L1631.4 599.7L1631.5 597.7L1631.5 595.7L1632.1 593.7L1632.3 591.7L1632.3 589.7L1633.2 587.8L1634.0 586.0L1633.9 583.9L1634.1 581.9L1634.7 580.0L1634.8 578.0L1635.1 576.0L1636.1 574.2L1636.7 572.3L1636.7 570.2L1637.2 568.2L1638.0 566.4L1638.3 564.4L1639.0 562.5L1640.2 560.7L1640.5 558.8L1640.4 556.7L1641.1 554.8L1641.7 552.9L1641.8 550.8L1642.5 548.9L1643.3 547.1L1643.2 545.0L1643.2 543.0L1644.1 541.1L1644.7 539.2L1645.0 537.2L1646.0 535.4L1646.8 533.5L1646.7 531.5L1647.2 529.5L1648.2 527.7L1648.8 525.8L1649.2 523.9L1650.2 522.1L1650.9 520.2L1651.2 518.1L1652.5 516.5L1654.3 515.4L1655.6 513.8L1657.1 512.6L1659.0 511.7L1660.5 510.4L1662.1 509.1L1664.1 508.8L1666.1 509.0L1668.1 508.5L1670.0 508.1L1672.2 507.8L1672.5 505.8L1672.7 503.8L1673.8 502.0L1674.4 500.1L1674.4 498.0L1675.6 496.4L1677.1 495.1L1678.3 493.3L1680.2 492.5L1682.3 492.3L1683.9 491.9L1685.8 492.2L1687.6 493.1L1689.5 493.7L1691.5 493.9L1693.3 494.9L1695.2 494.5L1696.8 493.1L1698.1 491.6L1699.7 490.4L1701.1 489.0L1702.9 487.8L1704.8 487.8L1705.4 489.6L1706.8 491.1L1707.9 492.8L1708.6 494.7L1709.8 496.2L1711.7 495.7L1713.8 495.5L1715.5 494.3L1716.8 492.6L1718.7 491.8L1720.7 491.3L1722.7 491.2L1724.6 491.8L1726.4 492.8L1728.4 493.1L1730.4 493.2L1732.3 493.7L1734.3 494.0L1736.3 493.7L1738.4 493.7L1740.4 493.8L1742.3 492.8L1744.1 491.9L1746.2 491.9L1748.0 491.2L1749.8 490.2L1751.8 489.7L1753.6 488.9L1755.1 487.4L1756.9 486.6L1759.0 486.3L1760.8 485.4L1761.1 485.1"/>
</g>
<g font-family="'Liberation Sans', Arial, sans-serif" font-weight="bold" fill="#000" style="font-kerning:none">
<text transform="translate(181,1329.6) scale(1,1.07)" font-size="66" text-anchor="middle">500</text>
<text transform="translate(406.9,1329.6) scale(1,1.07)" font-size="66" text-anchor="middle">1000</text>
<rect x="336.88" y="1321.8" width="12.00" height="9.2" fill="#fff"/>
<rect x="357.99" y="1321.8" width="11.50" height="9.2" fill="#fff"/>
<text transform="translate(632.8,1329.6) scale(1,1.07)" font-size="66" text-anchor="middle">1500</text>
<rect x="562.79" y="1321.8" width="12.00" height="9.2" fill="#fff"/>
<rect x="583.89" y="1321.8" width="11.50" height="9.2" fill="#fff"/>
<text transform="translate(858.7,1329.6) scale(1,1.07)" font-size="66" text-anchor="middle">2000</text>
<text transform="translate(1084.6,1329.6) scale(1,1.07)" font-size="66" text-anchor="middle">2500</text>
<text transform="translate(1310.5,1329.6) scale(1,1.07)" font-size="66" text-anchor="middle">3000</text>
<text transform="translate(1536.4,1329.6) scale(1,1.07)" font-size="66" text-anchor="middle">3500</text>
<text transform="translate(1762.3,1329.6) scale(1,1.07)" font-size="66" text-anchor="middle">4000</text>
<line x1="235.5" y1="901.0" x2="375" y2="901.0" stroke="#000000" stroke-width="9.6" stroke-linecap="round"/>
<text transform="translate(393.1,922) scale(0.997,1.078)" font-size="60">GF</text>
<line x1="235.5" y1="978.7" x2="375" y2="978.7" stroke="#ff0000" stroke-width="9.6" stroke-linecap="round"/>
<text transform="translate(390.3,999.5) scale(1.027,1.078)" font-size="60">AGF</text>
<line x1="235.5" y1="1056.4" x2="375" y2="1056.4" stroke="#0000ff" stroke-width="9.6" stroke-linecap="round"/>
<text transform="translate(391.7,1076.9) scale(1.0185,1.078)" font-size="60">PHQ-GF</text>
<line x1="235.5" y1="1134.1" x2="375" y2="1134.1" stroke="#008080" stroke-width="9.6" stroke-linecap="round"/>
<text transform="translate(391.7,1154.5) scale(1.02,1.078)" font-size="60">PHQ-AGF</text>
<text transform="translate(609.6,1449.6) scale(0.9943,1.04)" font-size="72">Wave number</text>
<text transform="translate(1099.5,1449.2) scale(0.87,0.965)" font-size="72">(</text>
<text transform="translate(1122.75,1449.6) scale(0.9943,1.04)" font-size="72">cm</text>
<text transform="translate(1225.9,1408.9) scale(1.15,1.1)" font-size="40">-1</text>
<rect x="1243.6" y="1403.9" width="8.36" height="5.9" fill="#fff"/>
<rect x="1258.3" y="1403.9" width="7.6" height="5.9" fill="#fff"/>
<text transform="translate(1268.3,1449.2) scale(0.87,0.965)" font-size="72">)</text>
<text transform="translate(79.6,1005) rotate(-90) scale(1.015,1.053)" font-size="72">Transmittance (a.u.)</text>
</g>
<g stroke="#fff" stroke-opacity="0.25" stroke-width="0.5"><line x1="0" x2="1868" y1="208.35" y2="208.35"/><line x1="0" x2="1868" y1="468.35" y2="468.35"/><line x1="0" x2="1868" y1="728.35" y2="728.35"/><line x1="0" x2="1868" y1="988.35" y2="988.35"/><line x1="0" x2="1868" y1="1248.35" y2="1248.35"/></g>
</svg>
</body>
</html>
